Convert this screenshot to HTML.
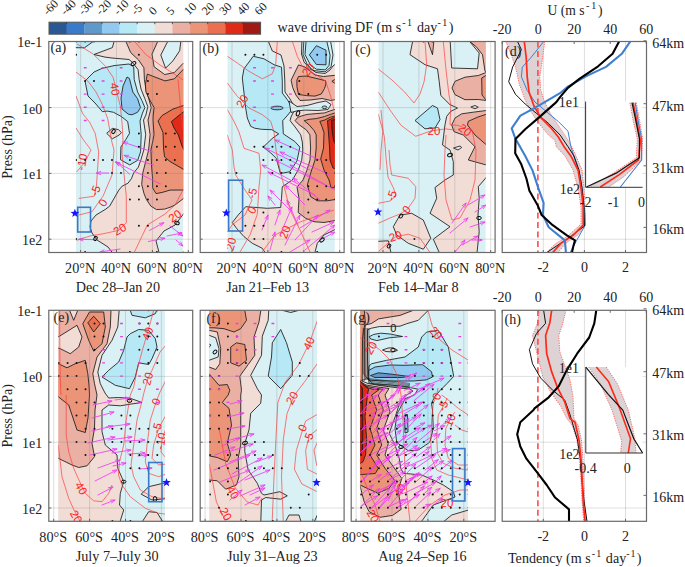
<!DOCTYPE html><html><head><meta charset="utf-8"><style>html,body{margin:0;padding:0;background:#fff;overflow:hidden}svg{display:block;font-family:"Liberation Serif",serif}</style></head><body><svg width="685" height="567" viewBox="0 0 685 567" fill="#222">
<rect width="685" height="567" fill="#fff"/>
<rect x="49.00" y="22.2" width="17.93" height="12.000000000000004" fill="#2a5892"/>
<rect x="66.63" y="22.2" width="17.93" height="12.000000000000004" fill="#3a7bc9"/>
<rect x="84.27" y="22.2" width="17.93" height="12.000000000000004" fill="#5f99cb"/>
<rect x="101.90" y="22.2" width="17.93" height="12.000000000000004" fill="#92c9f0"/>
<rect x="119.53" y="22.2" width="17.93" height="12.000000000000004" fill="#b6e8f6"/>
<rect x="137.17" y="22.2" width="17.93" height="12.000000000000004" fill="#d9f0f4"/>
<rect x="154.80" y="22.2" width="17.93" height="12.000000000000004" fill="#f2dcd6"/>
<rect x="172.43" y="22.2" width="17.93" height="12.000000000000004" fill="#ebb0a4"/>
<rect x="190.07" y="22.2" width="17.93" height="12.000000000000004" fill="#eb9478"/>
<rect x="207.70" y="22.2" width="17.93" height="12.000000000000004" fill="#eb7050"/>
<rect x="225.33" y="22.2" width="17.93" height="12.000000000000004" fill="#e02a18"/>
<rect x="242.97" y="22.2" width="17.93" height="12.000000000000004" fill="#a01a14"/>
<rect x="49.0" y="22.2" width="211.60" height="12.000000000000004" fill="none" stroke="#555" stroke-width="1"/>
<line x1="66.63" y1="22.2" x2="66.63" y2="24.2" stroke="#333" stroke-width="0.8"/>
<line x1="84.27" y1="22.2" x2="84.27" y2="24.2" stroke="#333" stroke-width="0.8"/>
<line x1="101.90" y1="22.2" x2="101.90" y2="24.2" stroke="#333" stroke-width="0.8"/>
<line x1="119.53" y1="22.2" x2="119.53" y2="24.2" stroke="#333" stroke-width="0.8"/>
<line x1="137.17" y1="22.2" x2="137.17" y2="24.2" stroke="#333" stroke-width="0.8"/>
<line x1="154.80" y1="22.2" x2="154.80" y2="24.2" stroke="#333" stroke-width="0.8"/>
<line x1="172.43" y1="22.2" x2="172.43" y2="24.2" stroke="#333" stroke-width="0.8"/>
<line x1="190.07" y1="22.2" x2="190.07" y2="24.2" stroke="#333" stroke-width="0.8"/>
<line x1="207.70" y1="22.2" x2="207.70" y2="24.2" stroke="#333" stroke-width="0.8"/>
<line x1="225.33" y1="22.2" x2="225.33" y2="24.2" stroke="#333" stroke-width="0.8"/>
<line x1="242.97" y1="22.2" x2="242.97" y2="24.2" stroke="#333" stroke-width="0.8"/>
<text x="47.70" y="15.8" font-size="12" transform="rotate(-45 47.70 15.8)">-60</text>
<text x="65.33" y="15.8" font-size="12" transform="rotate(-45 65.33 15.8)">-40</text>
<text x="82.97" y="15.8" font-size="12" transform="rotate(-45 82.97 15.8)">-30</text>
<text x="100.60" y="15.8" font-size="12" transform="rotate(-45 100.60 15.8)">-20</text>
<text x="118.23" y="15.8" font-size="12" transform="rotate(-45 118.23 15.8)">-10</text>
<text x="135.87" y="15.8" font-size="12" transform="rotate(-45 135.87 15.8)">-5</text>
<text x="153.50" y="15.8" font-size="12" transform="rotate(-45 153.50 15.8)">0</text>
<text x="171.13" y="15.8" font-size="12" transform="rotate(-45 171.13 15.8)">5</text>
<text x="188.77" y="15.8" font-size="12" transform="rotate(-45 188.77 15.8)">10</text>
<text x="206.40" y="15.8" font-size="12" transform="rotate(-45 206.40 15.8)">20</text>
<text x="224.03" y="15.8" font-size="12" transform="rotate(-45 224.03 15.8)">30</text>
<text x="241.67" y="15.8" font-size="12" transform="rotate(-45 241.67 15.8)">40</text>
<text x="259.30" y="15.8" font-size="12" transform="rotate(-45 259.30 15.8)">60</text>
<text x="277.5" y="32" font-size="14.1">wave driving DF (m s<tspan dx="1" dy="-6" font-size="10" letter-spacing="1.5">-1</tspan><tspan dy="6"> day</tspan><tspan dy="-6" font-size="10" letter-spacing="1.5">-1</tspan><tspan dy="6">)</tspan></text>
<clipPath id="clip_a"><rect x="75.8" y="41.5" width="107.50" height="211.00"/></clipPath>
<g clip-path="url(#clip_a)">
<rect x="75.8" y="41.5" width="107.50" height="211.00" fill="#d9f0f4"/>
<path d="M70.0 38.0 L98.0 38.0 L84.5 47.8 L70.0 47.6Z" fill="#b6e8f6" stroke="#1a1a1a" stroke-width="0.85" stroke-linejoin="round"/>
<path d="M85.0 81.0 L94.0 72.0 L102.0 68.4 L114.0 65.6 L129.0 64.0 L133.7 66.8 L134.2 79.4 L137.6 92.0 L142.0 100.8 L144.9 107.6 L142.5 113.0 L140.0 121.0 L141.2 134.5 L140.6 151.8 L137.7 160.3 L129.7 164.9 L120.5 159.7 L120.9 146.9 L125.8 139.5 L129.5 133.3 L127.7 121.6 L121.5 116.6 L113.5 112.3 L107.3 111.1 L102.4 111.7 L95.0 103.0 L88.0 96.0Z" fill="#b6e8f6" stroke="#1a1a1a" stroke-width="0.85" stroke-linejoin="round"/>
<path d="M127.0 77.0 L129.4 78.4 L132.8 92.0 L137.6 98.8 L140.5 107.6 L137.5 112.3 L132.0 114.8 L128.3 114.2 L122.0 109.0 L121.0 98.0 L123.0 86.0Z" fill="#92c9f0" stroke="#1a1a1a" stroke-width="0.85" stroke-linejoin="round"/>
<path d="M106.7 133.3 L112.3 128.4 L118.4 129.6 L121.5 132.7 L119.0 135.1 L112.3 138.8Z" fill="#f2dcd6" stroke="#1a1a1a" stroke-width="0.85" stroke-linejoin="round"/>
<path d="M115.0 38.0 L112.4 47.6 L94.0 54.5 L105.0 57.1 L112.0 58.0 L129.0 59.5 L132.0 62.0 L134.5 65.0 L138.1 69.7 L139.1 79.4 L141.0 89.0 L144.9 98.8 L147.8 106.6 L145.9 115.0 L143.5 120.0 L145.7 134.6 L143.8 150.0 L141.1 159.2 L138.3 167.2 L133.7 172.9 L131.4 178.7 L127.9 183.3 L122.2 186.1 L118.8 190.1 L114.2 198.2 L109.6 206.2 L105.0 209.6 L96.0 215.0 L91.0 221.0 L90.0 227.0 L92.0 233.0 L97.0 240.0 L108.0 247.0 L115.0 256.0 L160.0 256.0 L156.0 241.0 L164.0 231.0 L175.0 225.0 L188.0 208.0 L188.0 38.0Z" fill="#f2dcd6" stroke="#1a1a1a" stroke-width="0.85" stroke-linejoin="round"/>
<path d="M169.5 38.0 L181.2 38.0 L179.7 50.7 L172.9 60.9 L165.6 68.2 L160.8 55.0Z" fill="#d9f0f4" stroke="#1a1a1a" stroke-width="0.85" stroke-linejoin="round"/>
<path d="M124.4 38.0 L130.7 52.6 L138.6 60.0 L143.9 67.8 L144.4 79.4 L145.9 89.0 L148.8 98.8 L151.2 107.6 L149.3 115.0 L148.0 120.0 L150.1 134.6 L148.6 150.0 L145.7 161.5 L142.8 172.9 L141.7 184.4 L144.0 193.6 L146.3 199.3 L150.9 206.2 L156.6 209.6 L164.6 209.1 L170.0 207.3 L175.0 205.0 L188.0 195.0 L188.0 64.0 L183.1 63.3 L174.4 72.5 L164.7 74.5 L154.1 66.8 L152.0 54.1 L159.3 38.0Z" fill="#ebb0a4" stroke="#1a1a1a" stroke-width="0.85" stroke-linejoin="round"/>
<path d="M147.3 74.1 L165.0 80.9 L174.4 78.8 L183.6 69.1 L188.0 66.0 L188.0 190.0 L170.0 190.1 L162.3 192.4 L156.0 193.6 L152.6 187.8 L152.6 178.7 L151.5 165.0 L150.9 150.0 L153.0 140.0 L154.0 134.6 L153.0 120.0 L153.2 115.0 L154.1 107.6 L150.2 100.8 L145.9 92.0 L145.4 84.3Z" fill="#eb9478" stroke="#1a1a1a" stroke-width="0.85" stroke-linejoin="round"/>
<path d="M188.0 104.0 L173.0 109.0 L162.0 115.6 L158.0 121.0 L163.0 132.6 L163.6 149.0 L164.6 157.0 L170.0 161.5 L188.0 172.0Z" fill="#eb7050" stroke="#1a1a1a" stroke-width="0.85" stroke-linejoin="round"/>
<path d="M188.0 108.0 L177.0 117.0 L171.4 121.6 L174.0 128.0 L178.2 134.6 L182.0 146.0 L188.0 158.0Z" fill="#e02a18" stroke="#1a1a1a" stroke-width="0.85" stroke-linejoin="round"/>
<polyline points="77.0,44.0 93.4,54.2 106.0,66.8 113.2,77.6 116.8,92.0 120.4,106.3 122.2,124.3 123.0,140.0 121.9,152.0 124.0,174.0 126.3,196.2 126.3,222.7 118.6,230.4 103.0,233.8 89.9,236.0 76.6,240.4" fill="none" stroke="#ff3a3a" stroke-width="0.75" stroke-opacity="0.9"/>
<polyline points="76.0,72.0 88.0,81.2 96.0,92.0 102.4,104.5 107.8,119.0 111.4,140.0 114.0,150.0 112.0,175.0 103.0,196.2 92.0,211.7 78.8,215.0" fill="none" stroke="#ff3a3a" stroke-width="0.75" stroke-opacity="0.9"/>
<polyline points="76.0,96.0 82.6,113.5 89.8,122.5 95.2,133.3 98.7,152.0 96.5,185.2 94.3,196.2 78.8,198.4" fill="none" stroke="#ff3a3a" stroke-width="0.75" stroke-opacity="0.9"/>
<polyline points="76.0,128.0 83.5,140.0 91.0,150.0 85.0,162.0 76.6,172.0" fill="none" stroke="#ff3a3a" stroke-width="0.75" stroke-opacity="0.9"/>
<polyline points="134.7,41.6 145.5,54.2 160.0,65.0 174.3,74.0 183.0,80.0" fill="none" stroke="#ff3a3a" stroke-width="0.75" stroke-opacity="0.9"/>
<polyline points="178.0,79.4 179.7,97.4 181.5,117.0 183.0,130.0" fill="none" stroke="#ff3a3a" stroke-width="0.75" stroke-opacity="0.9"/>
<polyline points="134.0,253.0 147.3,225.0 165.0,214.0 175.0,205.0 183.0,190.0" fill="none" stroke="#ff3a3a" stroke-width="0.75" stroke-opacity="0.9"/>
<text x="115.0" y="89.0" font-family="Liberation Sans, sans-serif" font-size="11.5" fill="#ff2020" text-anchor="middle" dominant-baseline="central" transform="rotate(80 115.0 89.0)">40</text>
<text x="82.0" y="162.0" font-family="Liberation Sans, sans-serif" font-size="11.5" fill="#ff2020" text-anchor="middle" dominant-baseline="central" transform="rotate(-80 82.0 162.0)">-10</text>
<text x="95.4" y="190.7" font-family="Liberation Sans, sans-serif" font-size="11.5" fill="#ff2020" text-anchor="middle" dominant-baseline="central" transform="rotate(-70 95.4 190.7)">-5</text>
<text x="103.0" y="202.8" font-family="Liberation Sans, sans-serif" font-size="11.5" fill="#ff2020" text-anchor="middle" dominant-baseline="central" transform="rotate(-60 103.0 202.8)">0</text>
<text x="119.7" y="229.3" font-family="Liberation Sans, sans-serif" font-size="11.5" fill="#ff2020" text-anchor="middle" dominant-baseline="central" transform="rotate(-30 119.7 229.3)">20</text>
<text x="175.0" y="216.0" font-family="Liberation Sans, sans-serif" font-size="11.5" fill="#ff2020" text-anchor="middle" dominant-baseline="central" transform="rotate(-35 175.0 216.0)">20</text>
<path d="M152.8 152.0L123.0 142.1M126.5 144.9L123.0 142.1L127.5 142.0M153.9 165.3L124.1 155.4M127.6 158.2L124.1 155.4L128.6 155.3M160.5 184.0L115.3 162.0M118.4 165.2L115.3 162.0L119.8 162.5M129.6 174.2L116.4 162.0M118.5 166.0L116.4 162.0L120.5 163.7M108.6 173.0L96.5 173.0M100.7 174.5L96.5 173.0L100.7 171.5M95.4 239.7L78.8 239.3M83.0 240.9L78.8 239.3L83.1 237.9M149.5 230.4L163.8 222.7M159.4 223.4L163.8 222.7L160.8 226.1M148.4 241.5L165.0 238.2M160.6 237.5L165.0 238.2L161.1 240.5M167.0 236.0L182.0 233.0M177.6 232.3L182.0 233.0L178.2 235.3M170.0 226.0L183.0 236.0M180.6 232.2L183.0 236.0L178.7 234.6M176.0 240.0L183.0 246.0M180.8 242.1L183.0 246.0L178.8 244.4M120.0 249.0L100.0 252.0M104.4 252.9L100.0 252.0L104.0 249.9" fill="none" stroke="#f03cf0" stroke-width="0.85" stroke-linecap="round"/>
<ellipse cx="133.5" cy="63.5" rx="2.6" ry="1.6" transform="rotate(-35 133.5 63.5)" fill="none" stroke="#111" stroke-width="1"/>
<ellipse cx="113.5" cy="131.5" rx="2.2" ry="1.5" transform="rotate(-60 113.5 131.5)" fill="none" stroke="#111" stroke-width="1"/>
<ellipse cx="95.5" cy="238.5" rx="2.2" ry="1.5" transform="rotate(-60 95.5 238.5)" fill="none" stroke="#111" stroke-width="1"/>
<ellipse cx="177" cy="223" rx="2.3" ry="1.6" transform="rotate(20 177 223)" fill="none" stroke="#111" stroke-width="1"/>
<path d="M75.1 41.5a1 1 0 1 0 2 0a1 1 0 1 0 -2 0M84.1 41.5a1 1 0 1 0 2 0a1 1 0 1 0 -2 0M93.0 41.5a1 1 0 1 0 2 0a1 1 0 1 0 -2 0M128.9 41.5a1 1 0 1 0 2 0a1 1 0 1 0 -2 0M137.9 41.5a1 1 0 1 0 2 0a1 1 0 1 0 -2 0M75.1 54.7a1 1 0 1 0 2 0a1 1 0 1 0 -2 0M137.9 54.7a1 1 0 1 0 2 0a1 1 0 1 0 -2 0M84.1 81.0a1 1 0 1 0 2 0a1 1 0 1 0 -2 0M93.0 81.0a1 1 0 1 0 2 0a1 1 0 1 0 -2 0M146.9 81.0a1 1 0 1 0 2 0a1 1 0 1 0 -2 0M146.9 94.1a1 1 0 1 0 2 0a1 1 0 1 0 -2 0M155.9 94.1a1 1 0 1 0 2 0a1 1 0 1 0 -2 0M137.9 133.6a1 1 0 1 0 2 0a1 1 0 1 0 -2 0M164.8 133.6a1 1 0 1 0 2 0a1 1 0 1 0 -2 0M173.8 133.6a1 1 0 1 0 2 0a1 1 0 1 0 -2 0M137.9 146.8a1 1 0 1 0 2 0a1 1 0 1 0 -2 0M155.9 146.8a1 1 0 1 0 2 0a1 1 0 1 0 -2 0M164.8 146.8a1 1 0 1 0 2 0a1 1 0 1 0 -2 0M173.8 146.8a1 1 0 1 0 2 0a1 1 0 1 0 -2 0M75.1 159.9a1 1 0 1 0 2 0a1 1 0 1 0 -2 0M84.1 159.9a1 1 0 1 0 2 0a1 1 0 1 0 -2 0M93.0 159.9a1 1 0 1 0 2 0a1 1 0 1 0 -2 0M102.0 159.9a1 1 0 1 0 2 0a1 1 0 1 0 -2 0M111.0 159.9a1 1 0 1 0 2 0a1 1 0 1 0 -2 0M128.9 159.9a1 1 0 1 0 2 0a1 1 0 1 0 -2 0M146.9 159.9a1 1 0 1 0 2 0a1 1 0 1 0 -2 0M155.9 159.9a1 1 0 1 0 2 0a1 1 0 1 0 -2 0M164.8 159.9a1 1 0 1 0 2 0a1 1 0 1 0 -2 0M173.8 159.9a1 1 0 1 0 2 0a1 1 0 1 0 -2 0M111.0 173.1a1 1 0 1 0 2 0a1 1 0 1 0 -2 0M120.0 173.1a1 1 0 1 0 2 0a1 1 0 1 0 -2 0M146.9 173.1a1 1 0 1 0 2 0a1 1 0 1 0 -2 0M155.9 173.1a1 1 0 1 0 2 0a1 1 0 1 0 -2 0M164.8 173.1a1 1 0 1 0 2 0a1 1 0 1 0 -2 0M137.9 186.3a1 1 0 1 0 2 0a1 1 0 1 0 -2 0M146.9 186.3a1 1 0 1 0 2 0a1 1 0 1 0 -2 0M155.9 186.3a1 1 0 1 0 2 0a1 1 0 1 0 -2 0M164.8 186.3a1 1 0 1 0 2 0a1 1 0 1 0 -2 0M128.9 199.4a1 1 0 1 0 2 0a1 1 0 1 0 -2 0M137.9 199.4a1 1 0 1 0 2 0a1 1 0 1 0 -2 0M146.9 199.4a1 1 0 1 0 2 0a1 1 0 1 0 -2 0M155.9 199.4a1 1 0 1 0 2 0a1 1 0 1 0 -2 0M137.9 225.7a1 1 0 1 0 2 0a1 1 0 1 0 -2 0M146.9 225.7a1 1 0 1 0 2 0a1 1 0 1 0 -2 0M75.1 238.9a1 1 0 1 0 2 0a1 1 0 1 0 -2 0M84.1 252.1a1 1 0 1 0 2 0a1 1 0 1 0 -2 0M128.9 252.1a1 1 0 1 0 2 0a1 1 0 1 0 -2 0M155.9 252.1a1 1 0 1 0 2 0a1 1 0 1 0 -2 0M182.8 252.1a1 1 0 1 0 2 0a1 1 0 1 0 -2 0" fill="#111"/>
<path d="M83.8 67.8h2.8M101.7 67.8h2.8M119.7 67.8h2.8M101.7 81.0h2.8M119.7 81.0h2.8M83.8 94.1h2.8M101.7 94.1h2.8M119.7 94.1h2.8M83.8 107.3h2.8M101.7 107.3h2.8M119.7 107.3h2.8M83.8 120.5h2.8M101.7 120.5h2.8" stroke="#e83ce8" stroke-width="1.4" fill="none"/>
</g>
<rect x="77.7" y="207.3" width="12.8" height="24.7" fill="none" stroke="#3a78c8" stroke-width="1.6"/>
<path d="M74.90 208.80L76.02 211.86L79.27 211.98L76.71 213.99L77.60 217.12L74.90 215.30L72.20 217.12L73.09 213.99L70.53 211.98L73.78 211.86Z" fill="#1515ff"/>
<clipPath id="clip_b"><rect x="227.3" y="41.5" width="107.50" height="211.00"/></clipPath>
<g clip-path="url(#clip_b)">
<rect x="227.3" y="41.5" width="107.50" height="211.00" fill="#d9f0f4"/>
<path d="M244.0 68.8 L253.2 56.3 L264.0 58.8 L274.0 64.7 L281.5 67.2 L282.3 81.3 L282.3 93.0 L287.3 99.7 L290.7 104.7 L290.7 111.3 L287.8 115.0 L282.7 120.7 L283.3 133.9 L294.7 141.4 L299.9 147.1 L297.0 160.9 L289.6 171.8 L280.4 173.5 L276.4 158.6 L270.6 152.8 L263.2 147.1 L272.9 137.9 L278.7 133.9 L271.8 129.7 L261.5 129.3 L254.6 128.2 L250.7 126.3 L247.3 118.0 L245.7 108.0 L244.0 93.0 L242.3 78.0Z" fill="#b6e8f6" stroke="#1a1a1a" stroke-width="0.85" stroke-linejoin="round"/>
<path d="M267.0 38.0 L272.3 51.0 L281.0 55.0 L284.0 66.0 L284.8 81.0 L285.0 92.0 L290.0 99.0 L293.5 105.0 L293.5 112.0 L291.0 117.0 L290.1 120.7 L295.1 127.0 L300.7 134.8 L302.3 142.0 L302.8 150.0 L301.6 160.9 L298.2 170.0 L292.4 180.0 L282.3 186.7 L281.5 198.3 L280.7 207.5 L267.3 208.3 L245.7 206.7 L238.2 215.0 L232.3 222.5 L236.5 228.3 L244.0 236.7 L252.3 243.3 L262.3 248.3 L267.3 256.0 L314.0 256.0 L317.3 243.3 L324.0 235.0 L338.0 228.0 L338.0 38.0Z" fill="#f2dcd6" stroke="#1a1a1a" stroke-width="0.85" stroke-linejoin="round"/>
<path d="M289.0 101.0 L297.0 106.5 L307.0 105.5 L318.0 102.5 L326.0 101.0 L331.0 104.5 L328.0 109.5 L318.0 110.5 L305.6 110.1 L297.2 110.8 L291.0 112.5Z" fill="#d9f0f4" stroke="#1a1a1a" stroke-width="0.85" stroke-linejoin="round"/>
<path d="M302.0 38.0 L301.5 54.0 L304.0 62.0 L310.0 68.5 L316.0 72.5 L325.0 73.5 L330.0 70.0 L333.0 66.0 L338.0 62.0 L338.0 38.0Z" fill="#d9f0f4" stroke="#1a1a1a" stroke-width="0.85" stroke-linejoin="round"/>
<path d="M306.3 38.0 L305.0 54.6 L310.7 65.4 L316.4 69.2 L325.3 69.9 L329.1 65.4 L330.1 55.2 L326.0 38.0Z" fill="#b6e8f6" stroke="#1a1a1a" stroke-width="0.85" stroke-linejoin="round"/>
<path d="M309.4 54.9 L316.4 45.7 L326.0 50.2 L326.0 64.8 L316.4 64.5Z" fill="#92c9f0" stroke="#1a1a1a" stroke-width="0.85" stroke-linejoin="round"/>
<path d="M298.5 64.9 L305.0 67.0 L310.7 71.5 L315.0 75.0 L323.4 76.5 L338.0 75.0 L338.0 99.0 L331.0 100.5 L322.0 98.5 L310.0 100.0 L300.0 100.5 L295.9 95.0 L292.7 87.6 L291.1 80.2Z" fill="#ebb0a4" stroke="#1a1a1a" stroke-width="0.85" stroke-linejoin="round"/>
<path d="M298.5 76.5 L306.0 76.0 L315.0 78.1 L325.5 80.7 L326.0 84.0 L324.4 88.7 L321.3 94.0 L315.0 96.1 L306.5 95.6 L298.5 94.5 L296.9 86.6 L296.9 80.2Z" fill="#eb9478" stroke="#1a1a1a" stroke-width="0.85" stroke-linejoin="round"/>
<path d="M338.0 77.5 L331.9 81.3 L338.0 85.5Z" fill="#eb9478" stroke="#1a1a1a" stroke-width="0.85" stroke-linejoin="round"/>
<path d="M338.0 108.5 L330.3 110.8 L324.7 112.9 L316.2 113.6 L307.0 114.4 L302.0 115.8 L297.9 117.2 L295.1 120.7 L299.3 124.9 L306.3 129.9 L309.9 134.8 L310.6 148.0 L310.0 160.0 L307.0 170.0 L303.0 180.0 L297.0 187.0 L299.0 198.3 L298.2 212.5 L305.7 218.3 L314.0 221.7 L324.0 222.5 L338.0 220.0Z" fill="#ebb0a4" stroke="#1a1a1a" stroke-width="0.85" stroke-linejoin="round"/>
<path d="M338.0 112.0 L330.3 114.4 L324.7 116.5 L316.2 118.6 L309.2 119.3 L304.2 120.7 L309.2 124.9 L314.1 130.6 L316.2 134.8 L316.2 148.0 L315.0 160.0 L311.0 172.0 L307.3 185.0 L310.7 196.7 L317.3 200.8 L327.3 200.8 L338.0 199.0Z" fill="#eb9478" stroke="#1a1a1a" stroke-width="0.85" stroke-linejoin="round"/>
<path d="M338.0 115.0 L330.3 117.2 L324.7 120.0 L319.8 121.4 L321.9 126.3 L324.0 132.7 L323.5 148.0 L320.7 159.0 L324.0 170.0 L329.0 180.0 L331.0 187.6 L338.0 188.0Z" fill="#eb7050" stroke="#1a1a1a" stroke-width="0.85" stroke-linejoin="round"/>
<path d="M338.0 117.0 L334.6 117.2 L327.5 120.7 L328.2 129.2 L329.6 148.0 L330.0 160.0 L333.0 168.0 L338.0 170.0Z" fill="#e02a18" stroke="#1a1a1a" stroke-width="0.85" stroke-linejoin="round"/>
<path d="M338.0 118.5 L331.5 120.5 L332.0 130.0 L333.5 140.0 L338.0 150.0Z" fill="#a01a14" stroke="#1a1a1a" stroke-width="0.85" stroke-linejoin="round"/>
<ellipse cx="277" cy="108" rx="6.2" ry="1.8" fill="#92c9f0" stroke="#1a1a1a" stroke-width="0.85"/>
<ellipse cx="324.5" cy="107.3" rx="2.5" ry="1.3" fill="#b6e8f6" stroke="#1a1a1a" stroke-width="0.85"/>
<path d="M304 38 L303 54.5 L307 64 L313 70.5 L325 71.8 L331 67 L333 55 L330 38" fill="none" stroke="#1a1a1a" stroke-width="0.85"/>
<polyline points="227.3,56.3 237.3,63.0 249.0,71.3 262.3,78.8 272.3,73.8 275.7,64.7 277.3,41.3" fill="none" stroke="#ff3a3a" stroke-width="0.75" stroke-opacity="0.9"/>
<polyline points="227.3,83.0 237.3,96.3 249.0,108.0 262.3,114.7 270.7,121.3 274.0,132.0 276.0,150.0 280.0,170.0 285.0,190.0 290.0,210.0 300.0,230.0 310.0,252.0" fill="none" stroke="#ff3a3a" stroke-width="0.75" stroke-opacity="0.9"/>
<polyline points="227.3,109.7 234.0,121.3 239.0,132.0 244.0,148.3 259.0,153.3 260.7,170.0 259.0,186.7 257.3,214.2 250.0,235.0 240.0,252.0" fill="none" stroke="#ff3a3a" stroke-width="0.75" stroke-opacity="0.9"/>
<polyline points="292.3,41.3 297.3,56.3 302.3,66.3 317.3,75.5 325.7,81.3 330.7,96.3 334.0,110.0" fill="none" stroke="#ff3a3a" stroke-width="0.75" stroke-opacity="0.9"/>
<polyline points="227.3,135.0 232.3,150.0 234.0,166.7 235.7,175.0 245.0,190.0 252.0,200.0 245.0,215.0 232.0,225.0 227.3,232.0" fill="none" stroke="#ff3a3a" stroke-width="0.75" stroke-opacity="0.9"/>
<polyline points="262.0,252.0 275.0,235.0 300.0,222.0 320.0,215.0 334.0,210.0" fill="none" stroke="#ff3a3a" stroke-width="0.75" stroke-opacity="0.9"/>
<text x="242.3" y="101.3" font-family="Liberation Sans, sans-serif" font-size="11.5" fill="#ff2020" text-anchor="middle" dominant-baseline="central" transform="rotate(-60 242.3 101.3)">20</text>
<text x="308.2" y="69.7" font-family="Liberation Sans, sans-serif" font-size="11.5" fill="#ff2020" text-anchor="middle" dominant-baseline="central" transform="rotate(-55 308.2 69.7)">20</text>
<text x="252.3" y="193.3" font-family="Liberation Sans, sans-serif" font-size="11.5" fill="#ff2020" text-anchor="middle" dominant-baseline="central" transform="rotate(-75 252.3 193.3)">-5</text>
<text x="252.0" y="210.0" font-family="Liberation Sans, sans-serif" font-size="11.5" fill="#ff2020" text-anchor="middle" dominant-baseline="central" transform="rotate(-60 252.0 210.0)">0</text>
<text x="231.0" y="244.0" font-family="Liberation Sans, sans-serif" font-size="11.5" fill="#ff2020" text-anchor="middle" dominant-baseline="central" transform="rotate(-75 231.0 244.0)">20</text>
<text x="285.0" y="232.0" font-family="Liberation Sans, sans-serif" font-size="11.5" fill="#ff2020" text-anchor="middle" dominant-baseline="central" transform="rotate(-70 285.0 232.0)">20</text>
<path d="M320.0 160.0L275.0 140.0M278.2 143.1L275.0 140.0L279.5 140.3M330.0 175.0L280.0 152.0M283.2 155.2L280.0 152.0L284.5 152.4M325.0 185.0L275.0 160.0M278.1 163.3L275.0 160.0L279.5 160.5M315.0 195.0L268.0 172.0M271.1 175.2L268.0 172.0L272.5 172.5M310.0 170.0L265.0 148.0M268.1 151.2L265.0 148.0L269.5 148.5M300.0 185.0L262.0 165.0M265.0 168.3L262.0 165.0L266.5 165.6M335.0 190.0L290.0 165.0M293.0 168.4L290.0 165.0L294.4 165.7M305.0 205.0L285.0 185.0M286.9 189.1L285.0 185.0L289.1 186.9M320.0 200.0L293.0 178.0M295.3 181.9L293.0 178.0L297.2 179.5M290.0 210.0L270.0 190.0M271.9 194.1L270.0 190.0L274.1 191.9M298.0 225.0L287.0 200.0M287.3 204.5L287.0 200.0L290.1 203.3M275.0 205.0L268.0 196.0M269.4 200.3L268.0 196.0L271.8 198.4M285.0 245.0L300.0 215.0M296.7 218.1L300.0 215.0L299.5 219.5M295.0 240.0L318.0 215.0M314.0 217.1L318.0 215.0L316.3 219.1M305.0 250.0L335.0 225.0M330.8 226.5L335.0 225.0L332.7 228.9M280.0 235.0L292.0 207.0M288.9 210.3L292.0 207.0L291.7 211.5M275.0 225.0L280.0 210.0M277.2 213.5L280.0 210.0L280.1 214.5M320.0 240.0L335.0 232.0M330.5 232.6L335.0 232.0L332.0 235.3M300.0 228.0L330.0 210.0M325.6 210.9L330.0 210.0L327.2 213.5M270.0 250.0L275.0 232.0M272.4 235.7L275.0 232.0L275.3 236.5M290.0 252.0L310.0 240.0M305.6 240.9L310.0 240.0L307.2 243.5M312.0 232.0L334.0 222.0M329.5 222.4L334.0 222.0L330.8 225.1M262.0 230.0L268.0 215.0M265.0 218.4L268.0 215.0L267.8 219.5" fill="none" stroke="#f03cf0" stroke-width="0.85" stroke-linecap="round"/>
<ellipse cx="298" cy="113.4" rx="1.6" ry="2.6" transform="rotate(20 298 113.4)" fill="none" stroke="#111" stroke-width="1"/>
<ellipse cx="322" cy="240" rx="2.5" ry="1.6" transform="rotate(-40 322 240)" fill="none" stroke="#111" stroke-width="1"/>
<path d="M244.4 54.7a1 1 0 1 0 2 0a1 1 0 1 0 -2 0M253.4 54.7a1 1 0 1 0 2 0a1 1 0 1 0 -2 0M262.4 54.7a1 1 0 1 0 2 0a1 1 0 1 0 -2 0M316.2 54.7a1 1 0 1 0 2 0a1 1 0 1 0 -2 0M325.2 54.7a1 1 0 1 0 2 0a1 1 0 1 0 -2 0M298.3 81.0a1 1 0 1 0 2 0a1 1 0 1 0 -2 0M298.3 94.1a1 1 0 1 0 2 0a1 1 0 1 0 -2 0M307.3 94.1a1 1 0 1 0 2 0a1 1 0 1 0 -2 0M253.4 146.8a1 1 0 1 0 2 0a1 1 0 1 0 -2 0M262.4 146.8a1 1 0 1 0 2 0a1 1 0 1 0 -2 0M271.4 146.8a1 1 0 1 0 2 0a1 1 0 1 0 -2 0M280.4 146.8a1 1 0 1 0 2 0a1 1 0 1 0 -2 0M289.3 146.8a1 1 0 1 0 2 0a1 1 0 1 0 -2 0M262.4 159.9a1 1 0 1 0 2 0a1 1 0 1 0 -2 0M271.4 159.9a1 1 0 1 0 2 0a1 1 0 1 0 -2 0M280.4 159.9a1 1 0 1 0 2 0a1 1 0 1 0 -2 0M289.3 159.9a1 1 0 1 0 2 0a1 1 0 1 0 -2 0M316.2 159.9a1 1 0 1 0 2 0a1 1 0 1 0 -2 0M325.2 159.9a1 1 0 1 0 2 0a1 1 0 1 0 -2 0M226.5 173.1a1 1 0 1 0 2 0a1 1 0 1 0 -2 0M235.5 173.1a1 1 0 1 0 2 0a1 1 0 1 0 -2 0M271.4 173.1a1 1 0 1 0 2 0a1 1 0 1 0 -2 0M280.4 173.1a1 1 0 1 0 2 0a1 1 0 1 0 -2 0M289.3 173.1a1 1 0 1 0 2 0a1 1 0 1 0 -2 0M325.2 173.1a1 1 0 1 0 2 0a1 1 0 1 0 -2 0M334.2 173.1a1 1 0 1 0 2 0a1 1 0 1 0 -2 0M307.3 186.3a1 1 0 1 0 2 0a1 1 0 1 0 -2 0M316.2 186.3a1 1 0 1 0 2 0a1 1 0 1 0 -2 0M325.2 186.3a1 1 0 1 0 2 0a1 1 0 1 0 -2 0M334.2 186.3a1 1 0 1 0 2 0a1 1 0 1 0 -2 0M307.3 199.4a1 1 0 1 0 2 0a1 1 0 1 0 -2 0M316.2 199.4a1 1 0 1 0 2 0a1 1 0 1 0 -2 0M325.2 199.4a1 1 0 1 0 2 0a1 1 0 1 0 -2 0M334.2 199.4a1 1 0 1 0 2 0a1 1 0 1 0 -2 0M262.4 212.6a1 1 0 1 0 2 0a1 1 0 1 0 -2 0M307.3 212.6a1 1 0 1 0 2 0a1 1 0 1 0 -2 0M244.4 225.7a1 1 0 1 0 2 0a1 1 0 1 0 -2 0M253.4 225.7a1 1 0 1 0 2 0a1 1 0 1 0 -2 0M262.4 225.7a1 1 0 1 0 2 0a1 1 0 1 0 -2 0M253.4 238.9a1 1 0 1 0 2 0a1 1 0 1 0 -2 0M262.4 238.9a1 1 0 1 0 2 0a1 1 0 1 0 -2 0M280.4 252.1a1 1 0 1 0 2 0a1 1 0 1 0 -2 0M316.2 252.1a1 1 0 1 0 2 0a1 1 0 1 0 -2 0" fill="#111"/>
<path d="M253.1 67.8h2.8M271.1 67.8h2.8M289.0 67.8h2.8M253.1 81.0h2.8M271.1 81.0h2.8M271.1 94.1h2.8M289.0 94.1h2.8M253.1 107.3h2.8M271.1 107.3h2.8M253.1 120.5h2.8" stroke="#e83ce8" stroke-width="1.4" fill="none"/>
</g>
<rect x="228.6" y="180.2" width="14" height="50.8" fill="none" stroke="#3a78c8" stroke-width="1.6"/>
<path d="M226.30 208.40L227.42 211.46L230.67 211.58L228.11 213.59L229.00 216.72L226.30 214.90L223.60 216.72L224.49 213.59L221.93 211.58L225.18 211.46Z" fill="#1515ff"/>
<clipPath id="clip_c"><rect x="378.3" y="41.5" width="107.50" height="211.00"/></clipPath>
<g clip-path="url(#clip_c)">
<rect x="378.3" y="41.5" width="107.50" height="211.00" fill="#d9f0f4"/>
<path d="M413.3 38.0 L410.0 54.7 L425.0 64.7 L437.5 68.8 L439.2 81.3 L440.8 95.5 L450.0 104.7 L457.5 108.0 L450.8 111.3 L446.7 116.3 L445.0 124.7 L442.5 145.0 L450.0 150.0 L453.3 161.7 L453.3 175.0 L445.0 180.0 L435.0 187.5 L436.7 198.3 L430.0 213.3 L450.0 226.7 L433.3 239.2 L440.8 256.0 L476.7 256.0 L479.2 231.7 L478.0 215.0 L479.2 198.3 L478.3 186.7 L490.0 173.0 L490.0 38.0Z" fill="#f2dcd6" stroke="#1a1a1a" stroke-width="0.85" stroke-linejoin="round"/>
<path d="M393.3 226.7 L400.0 215.0 L411.7 213.3 L423.3 220.0 L430.8 238.3 L423.3 249.2 L408.3 243.3 L396.7 235.0Z" fill="#f2dcd6" stroke="#1a1a1a" stroke-width="0.85" stroke-linejoin="round"/>
<path d="M370.0 241.7 L388.3 240.8 L391.7 256.0 L370.0 256.0Z" fill="#f2dcd6" stroke="#1a1a1a" stroke-width="0.85" stroke-linejoin="round"/>
<path d="M450.0 38.0 L451.7 68.0 L477.5 68.8 L479.2 53.0 L466.7 38.0Z" fill="#d9f0f4" stroke="#1a1a1a" stroke-width="0.85" stroke-linejoin="round"/>
<path d="M426.7 38.0 L434.2 38.0 L432.5 54.7Z" fill="#ebb0a4" stroke="#1a1a1a" stroke-width="0.85" stroke-linejoin="round"/>
<path d="M465.8 38.0 L490.0 38.0 L490.0 73.0 L485.0 71.3 L482.5 54.7 L476.7 47.2Z" fill="#ebb0a4" stroke="#1a1a1a" stroke-width="0.85" stroke-linejoin="round"/>
<path d="M455.0 81.3 L465.0 77.2 L478.3 75.5 L490.0 71.0 L490.0 101.0 L478.3 99.5 L465.0 99.7 L455.0 94.7 L452.0 88.0Z" fill="#ebb0a4" stroke="#1a1a1a" stroke-width="0.85" stroke-linejoin="round"/>
<path d="M490.0 73.0 L481.7 78.0 L482.0 95.0 L490.0 105.0Z" fill="#eb9478" stroke="#1a1a1a" stroke-width="0.85" stroke-linejoin="round"/>
<path d="M470.8 107.0 L475.0 105.5 L478.3 107.2 L475.0 108.8Z" fill="#d9f0f4" stroke="#1a1a1a" stroke-width="0.85" stroke-linejoin="round"/>
<path d="M490.0 110.0 L473.3 112.2 L461.7 113.8 L455.0 118.0 L451.7 125.0 L454.0 131.7 L463.3 135.0 L475.0 146.7 L468.3 160.0 L490.0 166.0Z" fill="#ebb0a4" stroke="#1a1a1a" stroke-width="0.85" stroke-linejoin="round"/>
<path d="M490.0 113.0 L478.0 117.0 L468.3 121.3 L467.5 125.0 L475.0 135.0 L490.0 148.0Z" fill="#eb9478" stroke="#1a1a1a" stroke-width="0.85" stroke-linejoin="round"/>
<path d="M453.5 148.0 L460.0 146.0 L461.7 147.5 L458.0 150.0Z" fill="#d9f0f4" stroke="#1a1a1a" stroke-width="0.85" stroke-linejoin="round"/>
<path d="M415.0 120.5 L432.5 105.5 L437.5 108.0 L440.0 119.7 L435.0 128.0 L425.0 128.8Z" fill="#b6e8f6" stroke="#1a1a1a" stroke-width="0.85" stroke-linejoin="round"/>
<polyline points="378.3,69.0 392.0,80.0 404.6,92.0 414.0,103.0 420.0,94.0 424.0,82.0 426.7,64.7 425.0,41.5" fill="none" stroke="#ff3a3a" stroke-width="0.75" stroke-opacity="0.9"/>
<polyline points="378.3,92.0 390.0,110.0 400.9,125.2 415.7,136.3 430.6,131.0 445.4,128.9 455.0,130.0" fill="none" stroke="#ff3a3a" stroke-width="0.75" stroke-opacity="0.9"/>
<polyline points="378.3,114.0 384.3,136.3 386.1,158.5 388.0,177.0 393.5,188.1 396.0,196.0 390.0,201.0 378.3,203.3" fill="none" stroke="#ff3a3a" stroke-width="0.75" stroke-opacity="0.9"/>
<polyline points="381.0,110.0 383.0,130.0 381.0,150.0 380.0,170.0" fill="none" stroke="#ff3a3a" stroke-width="0.75" stroke-opacity="0.9"/>
<polyline points="378.3,223.3 390.0,218.0 400.0,214.0 407.5,209.2 415.0,198.3 415.8,186.7 408.3,178.3 391.7,175.0 390.0,165.0 389.0,150.0" fill="none" stroke="#ff3a3a" stroke-width="0.75" stroke-opacity="0.9"/>
<polyline points="443.3,41.5 446.0,70.0 449.0,95.0 450.8,104.7 450.0,124.7 458.3,125.5 465.0,128.0" fill="none" stroke="#ff3a3a" stroke-width="0.75" stroke-opacity="0.9"/>
<polyline points="446.0,135.0 445.0,150.0 444.0,175.0 446.0,200.0 452.0,220.0 460.0,218.0 470.0,200.0 475.0,180.0 476.0,150.0 472.0,130.0" fill="none" stroke="#ff3a3a" stroke-width="0.75" stroke-opacity="0.9"/>
<polyline points="378.3,251.7 388.0,243.0 395.8,236.7 408.3,234.2 420.0,238.3 430.0,252.5" fill="none" stroke="#ff3a3a" stroke-width="0.75" stroke-opacity="0.9"/>
<text x="434.0" y="130.7" font-family="Liberation Sans, sans-serif" font-size="11.5" fill="#ff2020" text-anchor="middle" dominant-baseline="central" transform="rotate(0 434.0 130.7)">20</text>
<text x="465.0" y="130.0" font-family="Liberation Sans, sans-serif" font-size="11.5" fill="#ff2020" text-anchor="middle" dominant-baseline="central" transform="rotate(40 465.0 130.0)">20</text>
<text x="391.7" y="195.6" font-family="Liberation Sans, sans-serif" font-size="11.5" fill="#ff2020" text-anchor="middle" dominant-baseline="central" transform="rotate(-70 391.7 195.6)">-5</text>
<text x="406.5" y="209.6" font-family="Liberation Sans, sans-serif" font-size="11.5" fill="#ff2020" text-anchor="middle" dominant-baseline="central" transform="rotate(-50 406.5 209.6)">0</text>
<text x="395.4" y="236.3" font-family="Liberation Sans, sans-serif" font-size="11.5" fill="#ff2020" text-anchor="middle" dominant-baseline="central" transform="rotate(-20 395.4 236.3)">20</text>
<path d="M450.0 233.0L468.0 218.0M463.8 219.5L468.0 218.0L465.7 221.9M452.0 223.0L466.0 203.0M462.3 205.6L466.0 203.0L464.8 207.3M468.0 205.0L485.0 195.0M480.6 195.8L485.0 195.0L482.1 198.5M470.0 227.0L485.0 222.0M480.5 221.9L485.0 222.0L481.5 224.8M472.0 240.0L482.0 240.0M477.8 238.5L482.0 240.0L477.8 241.5M455.0 252.0L465.0 240.0M461.1 242.3L465.0 240.0L463.5 244.2M475.0 212.0L486.0 205.0M481.6 206.0L486.0 205.0L483.3 208.6M462.0 245.0L478.0 236.0M473.6 236.7L478.0 236.0L475.1 239.4" fill="none" stroke="#f03cf0" stroke-width="0.85" stroke-linecap="round"/>
<ellipse cx="450" cy="155" rx="2.5" ry="1.6" transform="rotate(-20 450 155)" fill="none" stroke="#111" stroke-width="1"/>
<ellipse cx="401" cy="216" rx="2.2" ry="1.5" transform="rotate(-50 401 216)" fill="none" stroke="#111" stroke-width="1"/>
<ellipse cx="389" cy="246" rx="2.2" ry="1.5" transform="rotate(-50 389 246)" fill="none" stroke="#111" stroke-width="1"/>
<ellipse cx="479" cy="218" rx="2.3" ry="1.6" transform="rotate(0 479 218)" fill="none" stroke="#111" stroke-width="1"/>
<path d="M422.4 41.5a1 1 0 1 0 2 0a1 1 0 1 0 -2 0M431.4 41.5a1 1 0 1 0 2 0a1 1 0 1 0 -2 0M413.4 238.9a1 1 0 1 0 2 0a1 1 0 1 0 -2 0" fill="#111"/>
</g>
<path d="M378.00 207.40L379.12 210.46L382.37 210.58L379.81 212.59L380.70 215.72L378.00 213.90L375.30 215.72L376.19 212.59L373.63 210.58L376.88 210.46Z" fill="#1515ff"/>
<clipPath id="clip_e"><rect x="58.3" y="310.3" width="106.70" height="211.30"/></clipPath>
<g clip-path="url(#clip_e)">
<rect x="58.3" y="310.3" width="106.70" height="211.30" fill="#d9f0f4"/>
<path d="M54.0 306.0 L119.5 306.0 L117.8 327.0 L112.0 340.3 L102.0 355.3 L97.8 372.0 L100.3 383.7 L105.0 393.0 L108.7 398.0 L118.7 397.5 L130.3 398.3 L142.0 402.5 L130.3 404.2 L120.3 405.8 L108.7 405.0 L102.0 410.0 L102.0 431.7 L105.3 445.0 L117.0 455.0 L117.8 468.3 L123.7 481.7 L120.3 493.3 L119.5 505.0 L123.7 510.0 L118.7 526.0 L54.0 526.0Z" fill="#f2dcd6" stroke="#1a1a1a" stroke-width="0.85" stroke-linejoin="round"/>
<path d="M54.0 306.0 L111.2 306.0 L110.3 327.0 L107.0 343.7 L97.0 357.0 L92.8 373.7 L94.5 383.7 L97.0 395.0 L95.0 410.0 L94.5 428.3 L92.0 443.3 L94.5 456.7 L87.0 465.8 L78.7 467.5 L72.0 465.0 L58.3 458.3 L54.0 458.0Z" fill="#ebb0a4" stroke="#1a1a1a" stroke-width="0.85" stroke-linejoin="round"/>
<path d="M67.8 306.0 L79.5 306.0 L73.7 320.3Z" fill="#f2dcd6" stroke="#1a1a1a" stroke-width="0.85" stroke-linejoin="round"/>
<path d="M54.0 338.0 L59.5 336.2 L77.0 325.3 L82.0 337.0 L78.7 347.0 L70.3 353.7 L60.3 348.7 L54.0 347.0Z" fill="#f2dcd6" stroke="#1a1a1a" stroke-width="0.85" stroke-linejoin="round"/>
<path d="M82.8 323.7 L89.5 312.0 L103.7 312.0 L105.3 327.0 L102.0 343.7 L93.7 351.2 L88.7 340.3Z" fill="#eb9478" stroke="#1a1a1a" stroke-width="0.85" stroke-linejoin="round"/>
<path d="M54.0 362.0 L58.3 363.7 L67.0 367.8 L75.3 363.7 L85.3 360.3 L87.8 373.7 L89.0 385.0 L89.5 395.0 L88.0 418.0 L85.3 432.5 L77.0 430.0 L68.7 405.0 L58.3 396.7 L54.0 396.0Z" fill="#eb9478" stroke="#1a1a1a" stroke-width="0.85" stroke-linejoin="round"/>
<path d="M87.8 322.8 L93.7 316.2 L100.3 323.7 L93.7 332.0Z" fill="#eb7050" stroke="#1a1a1a" stroke-width="0.85" stroke-linejoin="round"/>
<path d="M128.7 306.0 L132.0 315.3 L145.3 317.8 L155.3 313.7 L158.7 306.0Z" fill="#b6e8f6" stroke="#1a1a1a" stroke-width="0.85" stroke-linejoin="round"/>
<path d="M130.3 333.7 L138.7 329.5 L148.7 330.3 L155.3 338.7 L157.0 347.0 L152.0 358.7 L148.7 364.5 L138.7 362.8 L135.3 377.0 L129.5 388.7 L115.3 385.3 L102.0 377.0 L108.7 370.3 L118.7 362.0 L123.7 350.3 L127.0 337.0Z" fill="#b6e8f6" stroke="#1a1a1a" stroke-width="0.85" stroke-linejoin="round"/>
<path d="M139.5 526.0 L148.7 511.7 L157.0 512.5 L162.8 521.7 L170.0 526.0Z" fill="#f2dcd6" stroke="#1a1a1a" stroke-width="0.85" stroke-linejoin="round"/>
<path d="M141.2 494.2 L148.7 486.7 L170.0 481.7 L170.0 498.3 L152.0 500.0Z" fill="#f2dcd6" stroke="#1a1a1a" stroke-width="0.85" stroke-linejoin="round"/>
<polyline points="153.7,310.3 147.8,332.0 142.8,348.7 137.0,370.3 133.7,387.0 130.3,395.0 126.2,420.0 123.7,445.0 119.5,461.7 118.5,475.0 122.0,485.0 130.3,496.7 145.3,508.3 158.7,513.3 165.0,514.0" fill="none" stroke="#ff3a3a" stroke-width="0.75" stroke-opacity="0.9"/>
<polyline points="166.0,345.0 160.0,352.0 152.0,370.3 147.8,378.7 143.7,393.7 142.0,401.2 137.0,420.0 133.7,445.0 131.0,465.0 133.7,476.7 140.3,490.0 152.0,496.7 160.3,498.3 166.0,498.0" fill="none" stroke="#ff3a3a" stroke-width="0.75" stroke-opacity="0.9"/>
<polyline points="166.0,380.0 160.0,392.0 156.2,401.7 150.3,420.0 147.0,445.0 145.3,461.7 148.7,473.3 158.7,476.7 166.0,474.0" fill="none" stroke="#ff3a3a" stroke-width="0.75" stroke-opacity="0.9"/>
<polyline points="166.0,415.0 158.7,428.3 153.7,445.0 152.0,458.3 158.7,465.0 166.0,464.0" fill="none" stroke="#ff3a3a" stroke-width="0.75" stroke-opacity="0.9"/>
<polyline points="166.0,428.0 162.0,440.0 161.0,452.0 166.0,458.0" fill="none" stroke="#ff3a3a" stroke-width="0.75" stroke-opacity="0.9"/>
<polyline points="66.2,395.0 66.2,435.0 68.7,451.7 73.7,468.3 81.2,485.0 85.3,493.3 93.7,500.8 102.0,501.7 108.7,493.3 112.0,485.0" fill="none" stroke="#ff3a3a" stroke-width="0.75" stroke-opacity="0.9"/>
<polyline points="58.3,445.0 62.0,476.7 68.7,498.3 74.0,510.0 80.3,521.7" fill="none" stroke="#ff3a3a" stroke-width="0.75" stroke-opacity="0.9"/>
<polyline points="59.6,310.3 59.8,350.0 60.3,380.0 61.0,395.0" fill="none" stroke="#ff3a3a" stroke-width="0.75" stroke-opacity="0.9"/>
<text x="147.8" y="333.7" font-family="Liberation Sans, sans-serif" font-size="11.5" fill="#ff2020" text-anchor="middle" dominant-baseline="central" transform="rotate(-70 147.8 333.7)">40</text>
<text x="147.8" y="378.7" font-family="Liberation Sans, sans-serif" font-size="11.5" fill="#ff2020" text-anchor="middle" dominant-baseline="central" transform="rotate(-75 147.8 378.7)">20</text>
<text x="156.2" y="401.7" font-family="Liberation Sans, sans-serif" font-size="11.5" fill="#ff2020" text-anchor="middle" dominant-baseline="central" transform="rotate(-70 156.2 401.7)">0</text>
<text x="157.0" y="428.0" font-family="Liberation Sans, sans-serif" font-size="11.5" fill="#ff2020" text-anchor="middle" dominant-baseline="central" transform="rotate(-75 157.0 428.0)">-5</text>
<text x="161.0" y="441.0" font-family="Liberation Sans, sans-serif" font-size="11.5" fill="#ff2020" text-anchor="middle" dominant-baseline="central" transform="rotate(-80 161.0 441.0)">-10</text>
<text x="81.2" y="488.3" font-family="Liberation Sans, sans-serif" font-size="11.5" fill="#ff2020" text-anchor="middle" dominant-baseline="central" transform="rotate(60 81.2 488.3)">40</text>
<text x="76.2" y="516.7" font-family="Liberation Sans, sans-serif" font-size="11.5" fill="#ff2020" text-anchor="middle" dominant-baseline="central" transform="rotate(60 76.2 516.7)">20</text>
<path d="M93.0 405.0L112.0 401.0M107.5 400.4L112.0 401.0L108.2 403.4M92.0 418.0L114.0 412.0M109.5 411.6L114.0 412.0L110.3 414.6M92.0 431.0L113.0 426.0M108.5 425.5L113.0 426.0L109.2 428.5M88.0 443.0L115.0 437.0M110.5 436.4L115.0 437.0L111.2 439.4M90.0 455.0L117.0 449.0M112.5 448.4L117.0 449.0L113.2 451.4M98.0 468.0L120.0 460.0M115.5 460.0L120.0 460.0L116.5 462.9M95.0 481.0L117.0 470.0M112.5 470.5L117.0 470.0L113.9 473.3M98.0 495.0L113.0 487.0M108.5 487.6L113.0 487.0L110.0 490.3M106.0 427.0L130.0 424.0M125.6 423.0L130.0 424.0L126.0 426.0M108.0 440.0L132.0 437.0M127.6 436.0L132.0 437.0L128.0 439.0M112.0 453.0L131.0 450.0M126.6 449.1L131.0 450.0L127.1 452.2M113.0 466.0L126.0 463.0M121.5 462.5L126.0 463.0L122.2 465.4M125.0 441.0L145.0 440.0M140.7 438.7L145.0 440.0L140.9 441.7M128.0 454.0L145.0 453.0M140.7 451.7L145.0 453.0L140.9 454.8M115.0 400.0L130.0 398.0M125.6 397.0L130.0 398.0L126.0 400.1M102.0 505.0L115.0 500.0M110.5 500.1L115.0 500.0L111.6 502.9M138.0 456.0L148.0 455.0M143.6 453.9L148.0 455.0L143.9 456.9M140.0 469.0L152.0 468.0M147.7 466.8L152.0 468.0L147.9 469.9" fill="none" stroke="#f03cf0" stroke-width="0.85" stroke-linecap="round"/>
<ellipse cx="129.5" cy="400.8" rx="2.3" ry="1.6" transform="rotate(0 129.5 400.8)" fill="none" stroke="#111" stroke-width="1"/>
<ellipse cx="123.7" cy="481.7" rx="2.3" ry="1.5" transform="rotate(0 123.7 481.7)" fill="none" stroke="#111" stroke-width="1"/>
<ellipse cx="155" cy="499" rx="1.8" ry="2.5" transform="rotate(0 155 499)" fill="none" stroke="#111" stroke-width="1"/>
<path d="M147.3 310.3a1 1 0 1 0 2 0a1 1 0 1 0 -2 0M156.3 310.3a1 1 0 1 0 2 0a1 1 0 1 0 -2 0M93.5 323.5a1 1 0 1 0 2 0a1 1 0 1 0 -2 0M102.5 323.5a1 1 0 1 0 2 0a1 1 0 1 0 -2 0M138.4 323.5a1 1 0 1 0 2 0a1 1 0 1 0 -2 0M147.3 323.5a1 1 0 1 0 2 0a1 1 0 1 0 -2 0M156.3 323.5a1 1 0 1 0 2 0a1 1 0 1 0 -2 0M93.5 336.6a1 1 0 1 0 2 0a1 1 0 1 0 -2 0M102.5 336.6a1 1 0 1 0 2 0a1 1 0 1 0 -2 0M138.4 336.6a1 1 0 1 0 2 0a1 1 0 1 0 -2 0M147.3 336.6a1 1 0 1 0 2 0a1 1 0 1 0 -2 0M156.3 336.6a1 1 0 1 0 2 0a1 1 0 1 0 -2 0M93.5 349.8a1 1 0 1 0 2 0a1 1 0 1 0 -2 0M138.4 349.8a1 1 0 1 0 2 0a1 1 0 1 0 -2 0M147.3 349.8a1 1 0 1 0 2 0a1 1 0 1 0 -2 0M156.3 349.8a1 1 0 1 0 2 0a1 1 0 1 0 -2 0M57.6 362.9a1 1 0 1 0 2 0a1 1 0 1 0 -2 0M66.6 362.9a1 1 0 1 0 2 0a1 1 0 1 0 -2 0M75.5 362.9a1 1 0 1 0 2 0a1 1 0 1 0 -2 0M84.5 362.9a1 1 0 1 0 2 0a1 1 0 1 0 -2 0M147.3 362.9a1 1 0 1 0 2 0a1 1 0 1 0 -2 0M156.3 362.9a1 1 0 1 0 2 0a1 1 0 1 0 -2 0M57.6 376.1a1 1 0 1 0 2 0a1 1 0 1 0 -2 0M66.6 376.1a1 1 0 1 0 2 0a1 1 0 1 0 -2 0M75.5 376.1a1 1 0 1 0 2 0a1 1 0 1 0 -2 0M66.6 389.3a1 1 0 1 0 2 0a1 1 0 1 0 -2 0M75.5 389.3a1 1 0 1 0 2 0a1 1 0 1 0 -2 0M84.5 389.3a1 1 0 1 0 2 0a1 1 0 1 0 -2 0M75.5 402.4a1 1 0 1 0 2 0a1 1 0 1 0 -2 0M84.5 402.4a1 1 0 1 0 2 0a1 1 0 1 0 -2 0M93.5 402.4a1 1 0 1 0 2 0a1 1 0 1 0 -2 0M75.5 415.6a1 1 0 1 0 2 0a1 1 0 1 0 -2 0M84.5 415.6a1 1 0 1 0 2 0a1 1 0 1 0 -2 0M120.4 415.6a1 1 0 1 0 2 0a1 1 0 1 0 -2 0M129.4 415.6a1 1 0 1 0 2 0a1 1 0 1 0 -2 0M84.5 428.7a1 1 0 1 0 2 0a1 1 0 1 0 -2 0M93.5 428.7a1 1 0 1 0 2 0a1 1 0 1 0 -2 0M111.4 428.7a1 1 0 1 0 2 0a1 1 0 1 0 -2 0M120.4 428.7a1 1 0 1 0 2 0a1 1 0 1 0 -2 0M129.4 428.7a1 1 0 1 0 2 0a1 1 0 1 0 -2 0M138.4 428.7a1 1 0 1 0 2 0a1 1 0 1 0 -2 0M147.3 428.7a1 1 0 1 0 2 0a1 1 0 1 0 -2 0M75.5 441.9a1 1 0 1 0 2 0a1 1 0 1 0 -2 0M84.5 441.9a1 1 0 1 0 2 0a1 1 0 1 0 -2 0M111.4 441.9a1 1 0 1 0 2 0a1 1 0 1 0 -2 0M120.4 441.9a1 1 0 1 0 2 0a1 1 0 1 0 -2 0M129.4 441.9a1 1 0 1 0 2 0a1 1 0 1 0 -2 0M138.4 441.9a1 1 0 1 0 2 0a1 1 0 1 0 -2 0M147.3 441.9a1 1 0 1 0 2 0a1 1 0 1 0 -2 0M156.3 441.9a1 1 0 1 0 2 0a1 1 0 1 0 -2 0M84.5 455.1a1 1 0 1 0 2 0a1 1 0 1 0 -2 0M93.5 455.1a1 1 0 1 0 2 0a1 1 0 1 0 -2 0M129.4 455.1a1 1 0 1 0 2 0a1 1 0 1 0 -2 0M138.4 455.1a1 1 0 1 0 2 0a1 1 0 1 0 -2 0M147.3 455.1a1 1 0 1 0 2 0a1 1 0 1 0 -2 0M156.3 455.1a1 1 0 1 0 2 0a1 1 0 1 0 -2 0M129.4 468.2a1 1 0 1 0 2 0a1 1 0 1 0 -2 0M138.4 468.2a1 1 0 1 0 2 0a1 1 0 1 0 -2 0M147.3 468.2a1 1 0 1 0 2 0a1 1 0 1 0 -2 0M111.4 520.9a1 1 0 1 0 2 0a1 1 0 1 0 -2 0M129.4 520.9a1 1 0 1 0 2 0a1 1 0 1 0 -2 0" fill="#111"/>
<path d="M120.1 323.5h2.8M138.1 323.5h2.8M156.0 323.5h2.8M120.1 336.6h2.8M102.2 349.8h2.8M120.1 349.8h2.8M102.2 362.9h2.8M120.1 362.9h2.8M138.1 362.9h2.8M102.2 376.1h2.8M120.1 376.1h2.8M138.1 376.1h2.8M138.1 389.3h2.8M156.0 389.3h2.8M138.1 402.4h2.8M156.0 402.4h2.8" stroke="#e83ce8" stroke-width="1.4" fill="none"/>
</g>
<rect x="148.7" y="462.5" width="13.3" height="39.2" fill="none" stroke="#3a78c8" stroke-width="1.6"/>
<path d="M166.50 477.90L167.62 480.96L170.87 481.08L168.31 483.09L169.20 486.22L166.50 484.40L163.80 486.22L164.69 483.09L162.13 481.08L165.38 480.96Z" fill="#1515ff"/>
<clipPath id="clip_f"><rect x="209.3" y="310.3" width="107.70" height="211.30"/></clipPath>
<g clip-path="url(#clip_f)">
<rect x="209.3" y="310.3" width="107.70" height="211.30" fill="#d9f0f4"/>
<path d="M205.0 306.0 L269.0 306.0 L268.2 320.3 L262.3 336.2 L261.5 355.3 L250.7 375.3 L257.3 388.7 L261.5 395.0 L260.7 403.3 L250.7 413.3 L249.0 430.0 L244.8 443.3 L244.8 451.7 L248.2 470.0 L257.3 483.3 L261.5 493.3 L264.0 495.0 L279.8 491.7 L287.3 495.8 L280.7 499.2 L265.7 497.5 L261.5 500.0 L260.7 526.0 L205.0 526.0Z" fill="#f2dcd6" stroke="#1a1a1a" stroke-width="0.85" stroke-linejoin="round"/>
<path d="M205.0 306.0 L261.5 306.0 L259.0 322.0 L254.0 337.0 L254.8 355.3 L248.2 364.5 L239.8 376.2 L241.5 390.3 L240.7 395.0 L240.7 445.0 L238.2 458.3 L239.0 476.7 L236.5 485.0 L225.7 489.2 L217.3 480.8 L209.0 480.0 L205.0 480.0Z" fill="#ebb0a4" stroke="#1a1a1a" stroke-width="0.85" stroke-linejoin="round"/>
<path d="M205.0 330.0 L209.0 330.3 L217.3 332.0 L220.7 348.7 L219.8 363.7 L215.7 369.5 L209.0 367.0 L205.0 367.0Z" fill="#f2dcd6" stroke="#1a1a1a" stroke-width="0.85" stroke-linejoin="round"/>
<path d="M205.0 335.0 L209.0 335.3 L215.7 337.8 L219.0 348.7 L218.2 357.0 L209.0 360.3 L205.0 360.0Z" fill="#d9f0f4" stroke="#1a1a1a" stroke-width="0.85" stroke-linejoin="round"/>
<path d="M205.0 342.0 L211.0 345.0 L205.0 352.0Z" fill="#b6e8f6" stroke="#1a1a1a" stroke-width="0.85" stroke-linejoin="round"/>
<path d="M205.0 306.0 L244.0 306.0 L246.5 320.3 L240.7 328.7 L234.0 332.0 L224.0 328.7 L214.0 327.8 L205.0 327.8Z" fill="#eb9478" stroke="#1a1a1a" stroke-width="0.85" stroke-linejoin="round"/>
<path d="M230.7 347.0 L236.5 342.8 L244.8 344.5 L246.5 360.3 L239.0 366.2 L230.7 362.8Z" fill="#eb9478" stroke="#1a1a1a" stroke-width="0.85" stroke-linejoin="round"/>
<path d="M205.0 373.7 L209.0 373.7 L219.0 385.3 L227.3 384.5 L229.8 390.3 L228.2 395.0 L222.3 402.5 L229.0 408.3 L231.5 425.0 L227.3 443.3 L230.7 455.0 L227.3 461.7 L217.3 457.5 L209.0 455.8 L205.0 455.8Z" fill="#eb9478" stroke="#1a1a1a" stroke-width="0.85" stroke-linejoin="round"/>
<path d="M280.7 329.5 L286.5 342.8 L292.3 362.0 L292.3 375.3 L280.7 388.7 L268.2 376.2 L271.5 357.0 L272.3 342.8Z" fill="#b6e8f6" stroke="#1a1a1a" stroke-width="0.85" stroke-linejoin="round"/>
<path d="M282.3 306.0 L282.3 310.3 L290.7 312.5 L299.0 310.3 L299.0 306.0Z" fill="#b6e8f6" stroke="#1a1a1a" stroke-width="0.85" stroke-linejoin="round"/>
<path d="M283.2 526.0 L289.0 515.0 L299.0 515.0 L302.3 526.0Z" fill="#f2dcd6" stroke="#1a1a1a" stroke-width="0.85" stroke-linejoin="round"/>
<path d="M312.3 526.0 L317.3 515.0 L320.0 515.0 L320.0 526.0Z" fill="#b6e8f6" stroke="#1a1a1a" stroke-width="0.85" stroke-linejoin="round"/>
<polyline points="318.5,317.4 309.3,343.3 298.1,365.6 285.2,382.2 277.8,402.6 275.9,439.6 274.0,476.7 272.2,521.6" fill="none" stroke="#ff3a3a" stroke-width="0.75" stroke-opacity="0.9"/>
<polyline points="318.5,361.9 305.6,380.4 294.4,395.2 287.0,413.7 283.3,439.6 281.5,476.7 283.3,521.6" fill="none" stroke="#ff3a3a" stroke-width="0.75" stroke-opacity="0.9"/>
<polyline points="318.5,413.7 305.6,421.1 301.9,432.2 296.3,450.7 294.4,469.3 301.9,484.0 316.7,491.5" fill="none" stroke="#ff3a3a" stroke-width="0.75" stroke-opacity="0.9"/>
<polyline points="318.5,428.5 309.3,435.9 305.6,450.7 307.4,469.3 318.5,474.8" fill="none" stroke="#ff3a3a" stroke-width="0.75" stroke-opacity="0.9"/>
<polyline points="318.5,439.6 314.0,450.0 316.7,465.6" fill="none" stroke="#ff3a3a" stroke-width="0.75" stroke-opacity="0.9"/>
<polyline points="218.8,426.8 225.8,464.3 235.2,487.8 247.0,501.9 258.0,505.0 262.0,498.0" fill="none" stroke="#ff3a3a" stroke-width="0.75" stroke-opacity="0.9"/>
<polyline points="209.4,464.3 216.4,501.9 225.8,521.6" fill="none" stroke="#ff3a3a" stroke-width="0.75" stroke-opacity="0.9"/>
<text x="309.0" y="343.3" font-family="Liberation Sans, sans-serif" font-size="11.5" fill="#ff2020" text-anchor="middle" dominant-baseline="central" transform="rotate(-65 309.0 343.3)">40</text>
<text x="292.0" y="398.0" font-family="Liberation Sans, sans-serif" font-size="11.5" fill="#ff2020" text-anchor="middle" dominant-baseline="central" transform="rotate(-60 292.0 398.0)">20</text>
<text x="302.5" y="428.0" font-family="Liberation Sans, sans-serif" font-size="11.5" fill="#ff2020" text-anchor="middle" dominant-baseline="central" transform="rotate(-65 302.5 428.0)">0</text>
<text x="308.5" y="438.0" font-family="Liberation Sans, sans-serif" font-size="11.5" fill="#ff2020" text-anchor="middle" dominant-baseline="central" transform="rotate(-70 308.5 438.0)">-5</text>
<text x="232.9" y="492.5" font-family="Liberation Sans, sans-serif" font-size="11.5" fill="#ff2020" text-anchor="middle" dominant-baseline="central" transform="rotate(60 232.9 492.5)">40</text>
<text x="225.8" y="514.0" font-family="Liberation Sans, sans-serif" font-size="11.5" fill="#ff2020" text-anchor="middle" dominant-baseline="central" transform="rotate(60 225.8 514.0)">20</text>
<path d="M230.0 404.0L242.0 401.0M237.5 400.5L242.0 401.0L238.3 403.5M228.0 417.0L244.0 413.0M239.5 412.5L244.0 413.0L240.3 415.5M228.0 429.0L245.0 426.0M240.6 425.2L245.0 426.0L241.1 428.2M226.0 441.0L254.0 434.0M249.5 433.5L254.0 434.0L250.3 436.5M225.0 453.0L253.0 444.0M248.5 443.8L253.0 444.0L249.4 446.8M230.0 462.0L256.0 451.0M251.5 451.2L256.0 451.0L252.7 454.1M232.0 474.0L262.0 458.0M257.5 458.6L262.0 458.0L259.0 461.3M235.0 485.0L262.0 466.0M257.7 467.2L262.0 466.0L259.4 469.7M240.0 496.0L265.0 485.0M260.5 485.3L265.0 485.0L261.7 488.1M222.0 446.0L240.0 438.0M235.5 438.3L240.0 438.0L236.8 441.1M215.0 455.0L235.0 447.0M230.5 447.2L235.0 447.0L231.6 450.0M214.0 470.0L250.0 455.0M245.5 455.2L250.0 455.0L246.7 458.0M220.0 482.0L250.0 470.0M245.5 470.2L250.0 470.0L246.6 473.0M245.0 480.0L270.0 470.0M265.5 470.2L270.0 470.0L266.6 473.0M250.0 495.0L265.0 488.0M260.5 488.4L265.0 488.0L261.8 491.2M245.0 505.0L260.0 497.0M255.5 497.6L260.0 497.0L257.0 500.3M230.0 500.0L242.0 490.0M237.8 491.5L242.0 490.0L239.7 493.9M256.0 462.0L272.0 456.0M267.5 456.1L272.0 456.0L268.6 458.9" fill="none" stroke="#f03cf0" stroke-width="0.85" stroke-linecap="round"/>
<ellipse cx="245" cy="443" rx="2.5" ry="1.6" transform="rotate(-20 245 443)" fill="none" stroke="#111" stroke-width="1"/>
<ellipse cx="215" cy="352" rx="2.2" ry="1.5" transform="rotate(-40 215 352)" fill="none" stroke="#111" stroke-width="1"/>
<path d="M218.0 323.5a1 1 0 1 0 2 0a1 1 0 1 0 -2 0M226.9 323.5a1 1 0 1 0 2 0a1 1 0 1 0 -2 0M226.9 336.6a1 1 0 1 0 2 0a1 1 0 1 0 -2 0M235.9 336.6a1 1 0 1 0 2 0a1 1 0 1 0 -2 0M226.9 349.8a1 1 0 1 0 2 0a1 1 0 1 0 -2 0M235.9 349.8a1 1 0 1 0 2 0a1 1 0 1 0 -2 0M244.9 349.8a1 1 0 1 0 2 0a1 1 0 1 0 -2 0M226.9 362.9a1 1 0 1 0 2 0a1 1 0 1 0 -2 0M235.9 362.9a1 1 0 1 0 2 0a1 1 0 1 0 -2 0M244.9 362.9a1 1 0 1 0 2 0a1 1 0 1 0 -2 0M298.8 362.9a1 1 0 1 0 2 0a1 1 0 1 0 -2 0M209.0 376.1a1 1 0 1 0 2 0a1 1 0 1 0 -2 0M218.0 376.1a1 1 0 1 0 2 0a1 1 0 1 0 -2 0M298.8 376.1a1 1 0 1 0 2 0a1 1 0 1 0 -2 0M307.7 376.1a1 1 0 1 0 2 0a1 1 0 1 0 -2 0M209.0 389.3a1 1 0 1 0 2 0a1 1 0 1 0 -2 0M218.0 389.3a1 1 0 1 0 2 0a1 1 0 1 0 -2 0M209.0 402.4a1 1 0 1 0 2 0a1 1 0 1 0 -2 0M218.0 402.4a1 1 0 1 0 2 0a1 1 0 1 0 -2 0M209.0 415.6a1 1 0 1 0 2 0a1 1 0 1 0 -2 0M218.0 415.6a1 1 0 1 0 2 0a1 1 0 1 0 -2 0M226.9 415.6a1 1 0 1 0 2 0a1 1 0 1 0 -2 0M209.0 428.7a1 1 0 1 0 2 0a1 1 0 1 0 -2 0M218.0 428.7a1 1 0 1 0 2 0a1 1 0 1 0 -2 0M226.9 428.7a1 1 0 1 0 2 0a1 1 0 1 0 -2 0M209.0 441.9a1 1 0 1 0 2 0a1 1 0 1 0 -2 0M218.0 441.9a1 1 0 1 0 2 0a1 1 0 1 0 -2 0M226.9 441.9a1 1 0 1 0 2 0a1 1 0 1 0 -2 0M253.9 441.9a1 1 0 1 0 2 0a1 1 0 1 0 -2 0M262.9 441.9a1 1 0 1 0 2 0a1 1 0 1 0 -2 0M209.0 455.1a1 1 0 1 0 2 0a1 1 0 1 0 -2 0M226.9 455.1a1 1 0 1 0 2 0a1 1 0 1 0 -2 0M235.9 455.1a1 1 0 1 0 2 0a1 1 0 1 0 -2 0M253.9 455.1a1 1 0 1 0 2 0a1 1 0 1 0 -2 0M262.9 455.1a1 1 0 1 0 2 0a1 1 0 1 0 -2 0M271.8 455.1a1 1 0 1 0 2 0a1 1 0 1 0 -2 0M218.0 468.2a1 1 0 1 0 2 0a1 1 0 1 0 -2 0M226.9 468.2a1 1 0 1 0 2 0a1 1 0 1 0 -2 0M235.9 468.2a1 1 0 1 0 2 0a1 1 0 1 0 -2 0M253.9 468.2a1 1 0 1 0 2 0a1 1 0 1 0 -2 0M262.9 468.2a1 1 0 1 0 2 0a1 1 0 1 0 -2 0M271.8 468.2a1 1 0 1 0 2 0a1 1 0 1 0 -2 0M280.8 468.2a1 1 0 1 0 2 0a1 1 0 1 0 -2 0M209.0 481.4a1 1 0 1 0 2 0a1 1 0 1 0 -2 0M226.9 481.4a1 1 0 1 0 2 0a1 1 0 1 0 -2 0M209.0 494.5a1 1 0 1 0 2 0a1 1 0 1 0 -2 0M226.9 494.5a1 1 0 1 0 2 0a1 1 0 1 0 -2 0M307.7 494.5a1 1 0 1 0 2 0a1 1 0 1 0 -2 0M218.0 507.7a1 1 0 1 0 2 0a1 1 0 1 0 -2 0M289.8 507.7a1 1 0 1 0 2 0a1 1 0 1 0 -2 0M298.8 507.7a1 1 0 1 0 2 0a1 1 0 1 0 -2 0M244.9 520.9a1 1 0 1 0 2 0a1 1 0 1 0 -2 0M271.8 520.9a1 1 0 1 0 2 0a1 1 0 1 0 -2 0" fill="#111"/>
<path d="M235.6 323.5h2.8M253.6 323.5h2.8M271.5 323.5h2.8M235.6 336.6h2.8M253.6 336.6h2.8M271.5 336.6h2.8M235.6 349.8h2.8M253.6 349.8h2.8M235.6 362.9h2.8M208.7 376.1h2.8M217.7 376.1h2.8M235.6 376.1h2.8M208.7 389.3h2.8M217.7 389.3h2.8M226.6 402.4h2.8M208.7 415.6h2.8" stroke="#e83ce8" stroke-width="1.4" fill="none"/>
</g>
<path d="M316.50 477.90L317.62 480.96L320.87 481.08L318.31 483.09L319.20 486.22L316.50 484.40L313.80 486.22L314.69 483.09L312.13 481.08L315.38 480.96Z" fill="#1515ff"/>
<clipPath id="clip_g"><rect x="360.3" y="310.3" width="107.70" height="211.30"/></clipPath>
<g clip-path="url(#clip_g)">
<rect x="360.3" y="310.3" width="107.70" height="211.30" fill="#d9f0f4"/>
<path d="M356.0 306.0 L428.3 306.0 L428.3 310.3 L418.3 320.3 L406.7 323.7 L400.0 326.2 L379.3 326.6 L371.5 328.2 L367.6 329.7 L367.5 335.0 L367.5 360.0 L368.0 372.0 L368.0 379.0 L356.0 379.0Z" fill="#f2dcd6" stroke="#1a1a1a" stroke-width="0.85" stroke-linejoin="round"/>
<path d="M356.0 306.0 L413.3 306.0 L413.3 310.3 L400.0 315.4 L390.0 317.0 L378.5 318.9 L371.5 323.5 L365.3 325.0 L364.8 331.0 L364.8 345.0 L365.0 380.0 L356.0 380.0Z" fill="#ebb0a4" stroke="#1a1a1a" stroke-width="0.85" stroke-linejoin="round"/>
<path d="M356.0 306.0 L364.0 306.0 L365.3 322.7 L363.4 331.3 L362.5 339.0 L362.2 382.0 L356.0 382.0Z" fill="#eb9478" stroke="#1a1a1a" stroke-width="0.85" stroke-linejoin="round"/>
<path d="M369.2 336.7 L373.8 334.4 L380.8 333.2 L390.0 334.0 L402.5 336.5 L389.3 337.8 L376.9 340.6 L370.7 339.0Z" fill="#b6e8f6" stroke="#1a1a1a" stroke-width="0.85" stroke-linejoin="round"/>
<path d="M382.5 350.0 L388.0 348.0 L393.3 347.8 L397.5 350.3 L393.3 352.0 L386.0 351.5Z" fill="#f2dcd6" stroke="#1a1a1a" stroke-width="0.85" stroke-linejoin="round"/>
<path d="M421.7 337.0 L426.7 332.0 L438.3 330.3 L448.3 347.0 L450.7 360.0 L453.7 376.4 L447.2 383.4 L440.2 390.4 L435.0 396.2 L431.5 403.2 L432.5 410.0 L433.3 428.3 L430.0 441.7 L428.3 443.3 L418.3 450.0 L408.3 450.8 L396.7 442.5 L395.0 428.3 L397.0 413.7 L402.9 403.2 L405.2 398.6 L414.5 395.0 L418.0 389.2 L405.0 386.5 L390.0 385.0 L375.0 384.0 L369.0 383.0 L368.5 378.0 L368.5 372.0 L369.0 366.0 L371.7 363.7 L386.7 360.3 L405.0 357.0 L418.3 347.0Z" fill="#b6e8f6" stroke="#1a1a1a" stroke-width="0.85" stroke-linejoin="round"/>
<path d="M368.5 370.5 L375.0 367.0 L390.0 365.0 L404.0 365.3 L422.7 364.7 L431.5 371.7 L432.6 377.0 L426.2 379.9 L413.4 381.0 L401.7 381.0 L390.0 381.0 L375.0 380.5 L368.5 380.0Z" fill="#92c9f0" stroke="#1a1a1a" stroke-width="0.85" stroke-linejoin="round"/>
<path d="M370.5 375.5 L378.3 372.8 L390.0 374.0 L408.7 376.4 L401.7 377.5 L390.0 377.5 L375.0 377.5Z" fill="#5f99cb" stroke="#1a1a1a" stroke-width="0.85" stroke-linejoin="round"/>
<path d="M356.0 381.0 L362.0 381.0 L368.0 383.5 L380.0 385.5 L395.0 387.5 L410.0 389.0 L413.0 391.0 L405.0 396.0 L400.0 402.0 L395.8 415.0 L389.2 433.3 L395.0 445.0 L399.2 458.3 L400.8 468.3 L403.3 473.3 L421.7 475.0 L433.3 480.0 L443.3 485.0 L453.3 491.7 L455.0 497.0 L433.3 505.0 L418.3 526.0 L356.0 526.0Z" fill="#f2dcd6" stroke="#1a1a1a" stroke-width="0.85" stroke-linejoin="round"/>
<path d="M356.0 382.0 L362.0 382.5 L366.0 385.0 L378.0 387.0 L389.0 388.5 L385.0 395.0 L390.0 411.7 L383.3 430.0 L388.3 443.3 L385.0 455.0 L393.3 466.7 L401.8 478.4 L398.0 490.0 L401.2 509.3 L392.6 515.4 L380.2 517.3 L369.1 511.7 L364.2 501.9 L360.0 486.0 L356.0 486.0Z" fill="#ebb0a4" stroke="#1a1a1a" stroke-width="0.85" stroke-linejoin="round"/>
<path d="M356.0 383.0 L362.0 383.5 L367.0 386.5 L376.0 388.3 L383.0 389.3 L378.3 395.0 L383.3 410.0 L376.7 428.3 L381.7 445.0 L376.7 455.0 L385.0 468.3 L395.0 480.9 L388.9 488.3 L377.8 493.2 L360.0 485.0 L356.0 485.0Z" fill="#eb9478" stroke="#1a1a1a" stroke-width="0.85" stroke-linejoin="round"/>
<path d="M356.0 384.0 L362.0 384.5 L368.0 388.0 L374.0 389.5 L379.2 389.6 L371.7 395.0 L376.7 410.0 L370.0 428.3 L375.0 445.0 L370.0 455.0 L378.3 468.3 L375.3 473.5 L360.0 474.7 L356.0 474.7Z" fill="#eb7050" stroke="#1a1a1a" stroke-width="0.85" stroke-linejoin="round"/>
<path d="M356.0 381.5 L360.5 381.5 L364.0 385.5 L368.6 389.0 L367.5 395.0 L365.0 416.7 L366.7 440.0 L365.5 455.0 L363.0 461.7 L360.0 463.6 L356.0 463.6Z" fill="#e02a18" stroke="#1a1a1a" stroke-width="0.85" stroke-linejoin="round"/>
<path d="M356.0 385.0 L360.0 385.0 L362.4 388.0 L362.8 430.0 L362.5 450.0 L360.0 455.0 L356.0 455.0Z" fill="#a01a14" stroke="#1a1a1a" stroke-width="0.85" stroke-linejoin="round"/>
<path d="M404.5 415.0 L407.5 414.5 L408.0 432.0 L405.0 433.0Z" fill="#92c9f0" stroke="#1a1a1a" stroke-width="0.85" stroke-linejoin="round"/>
<path d="M438.3 526.0 L451.7 515.0 L465.8 510.8 L472.0 509.0 L472.0 526.0Z" fill="#f2dcd6" stroke="#1a1a1a" stroke-width="0.85" stroke-linejoin="round"/>
<path d="M363.2 328 L363.2 371.0 Q363.2 376.0 368.0 378.5 L385.0 380.5 L400 382.0 L410 383.5 M364.6 328 L364.6 372.6 Q364.6 377.4 369.2 379.9 L385.0 381.8 L400 383.2 L410 384.6 M366.1 328 L366.1 374.2 Q366.1 378.8 370.4 381.3 L385.0 383.1 L400 384.4 L410 385.7 M367.6 328 L367.6 375.8 Q367.6 380.2 371.6 382.7 L385.0 384.4 L400 385.6 L410 386.8 M369.0 328 L369.0 377.4 Q369.0 381.6 372.8 384.1 L385.0 385.7 L400 386.8 L410 387.9 " fill="none" stroke="#1a1a1a" stroke-width="0.55"/>
<text x="393.3" y="328" font-family="Liberation Sans, sans-serif" font-size="11" fill="#111" text-anchor="middle" dominant-baseline="central">0</text>
<polyline points="360.3,338.0 370.0,343.0 380.0,350.0 390.0,360.0 397.0,375.0 401.0,395.0 403.0,420.0 404.0,445.0 405.0,470.0 407.0,495.0 410.0,521.6" fill="none" stroke="#ff3a3a" stroke-width="0.75" stroke-opacity="0.9"/>
<polyline points="428.0,310.3 432.0,325.0 440.0,340.0 452.0,350.0 468.0,360.0" fill="none" stroke="#ff3a3a" stroke-width="0.75" stroke-opacity="0.9"/>
<polyline points="438.0,388.0 436.7,395.0 433.3,403.3 431.7,420.0 430.8,441.7 431.7,458.3 436.7,470.0 448.3,475.0 461.7,478.3 468.3,480.0" fill="none" stroke="#ff3a3a" stroke-width="0.75" stroke-opacity="0.9"/>
<polyline points="447.0,398.0 445.0,403.3 438.3,415.0 436.7,436.7 437.5,453.3 443.3,463.3 455.0,468.3 468.3,470.0" fill="none" stroke="#ff3a3a" stroke-width="0.75" stroke-opacity="0.9"/>
<polyline points="455.0,412.0 451.7,416.7 445.8,428.3 445.0,445.0 448.3,458.3 458.3,465.0 468.3,465.0" fill="none" stroke="#ff3a3a" stroke-width="0.75" stroke-opacity="0.9"/>
<polyline points="441.7,395.0 448.3,400.0 458.3,408.3 468.3,415.0" fill="none" stroke="#ff3a3a" stroke-width="0.75" stroke-opacity="0.9"/>
<polyline points="455.0,425.0 461.7,430.0 468.3,432.0" fill="none" stroke="#ff3a3a" stroke-width="0.75" stroke-opacity="0.9"/>
<polyline points="360.3,470.0 368.0,490.0 375.0,505.0 380.0,521.6" fill="none" stroke="#ff3a3a" stroke-width="0.75" stroke-opacity="0.9"/>
<polyline points="415.0,521.6 430.0,505.0 445.0,495.0 460.0,490.0 468.0,490.0" fill="none" stroke="#ff3a3a" stroke-width="0.75" stroke-opacity="0.9"/>
<text x="371.0" y="348.0" font-family="Liberation Sans, sans-serif" font-size="11.5" fill="#ff2020" text-anchor="middle" dominant-baseline="central" transform="rotate(-60 371.0 348.0)">20</text>
<text x="436.0" y="333.0" font-family="Liberation Sans, sans-serif" font-size="11.5" fill="#ff2020" text-anchor="middle" dominant-baseline="central" transform="rotate(50 436.0 333.0)">20</text>
<text x="443.0" y="406.0" font-family="Liberation Sans, sans-serif" font-size="11.5" fill="#ff2020" text-anchor="middle" dominant-baseline="central" transform="rotate(-65 443.0 406.0)">-5</text>
<text x="450.0" y="420.0" font-family="Liberation Sans, sans-serif" font-size="11.5" fill="#ff2020" text-anchor="middle" dominant-baseline="central" transform="rotate(-65 450.0 420.0)">10</text>
<text x="400.0" y="490.0" font-family="Liberation Sans, sans-serif" font-size="11.5" fill="#ff2020" text-anchor="middle" dominant-baseline="central" transform="rotate(-65 400.0 490.0)">40</text>
<text x="447.0" y="503.0" font-family="Liberation Sans, sans-serif" font-size="11.5" fill="#ff2020" text-anchor="middle" dominant-baseline="central" transform="rotate(0 447.0 503.0)">20</text>
<text x="436.7" y="396.5" font-family="Liberation Sans, sans-serif" font-size="11.5" fill="#ff2020" text-anchor="middle" dominant-baseline="central" transform="rotate(-65 436.7 396.5)">0</text>
<text x="373.0" y="516.0" font-family="Liberation Sans, sans-serif" font-size="11.5" fill="#ff2020" text-anchor="middle" dominant-baseline="central" transform="rotate(60 373.0 516.0)">20</text>
<path d="M396.9 389.6L410.6 374.5M406.6 376.6L410.6 374.5L408.9 378.7M396.9 389.6L416.5 373.0M412.3 374.5L416.5 373.0L414.3 376.9M404.2 390.5L420.1 383.2M415.6 383.6L420.1 383.2L416.9 386.4M416.7 389.9L444.0 378.2M439.5 378.5L444.0 378.2L440.7 381.3M359.8 401.4L370.2 393.6M365.9 394.9L370.2 393.6L367.8 397.3M359.8 401.4L377.3 387.3M373.0 388.7L377.3 387.3L374.9 391.1M370.5 402.4L385.5 387.2M381.4 389.1L385.5 387.2L383.6 391.3M380.9 404.4L394.9 394.7M390.6 395.9L394.9 394.7L392.3 398.4M386.8 401.6L400.0 389.8M395.8 391.5L400.0 389.8L397.9 393.8M386.8 401.6L401.4 385.4M397.5 387.5L401.4 385.4L399.7 389.5M398.7 403.8L412.0 390.2M407.9 392.2L412.0 390.2L410.1 394.3M398.7 403.8L424.8 388.0M420.4 388.9L424.8 388.0L422.0 391.5M405.5 400.7L429.7 383.6M425.4 384.8L429.7 383.6L427.1 387.3M413.9 400.8L434.0 384.2M429.7 385.7L434.0 384.2L431.7 388.1M359.5 414.6L376.3 395.2M372.4 397.4L376.3 395.2L374.7 399.4M359.5 414.6L385.0 401.7M380.5 402.2L385.0 401.7L381.9 405.0M369.8 414.3L389.4 404.3M385.0 404.9L389.4 404.3L386.4 407.6M377.4 415.3L398.7 405.0M394.2 405.5L398.7 405.0L395.5 408.3M377.4 415.3L403.8 398.1M399.4 399.1L403.8 398.1L401.1 401.7M389.5 414.4L401.9 402.2M397.8 404.0L401.9 402.2L400.0 406.2M389.5 414.4L405.9 394.4M402.0 396.7L405.9 394.4L404.4 398.6M395.8 414.6L422.8 402.1M418.3 402.5L422.8 402.1L419.6 405.3M404.2 413.9L419.0 405.0M414.6 405.8L419.0 405.0L416.2 408.5M415.3 415.1L428.1 404.9M423.8 406.3L428.1 404.9L425.7 408.7M361.3 430.2L374.9 414.6M371.0 416.8L374.9 414.6L373.3 418.8M361.3 430.2L387.8 415.2M383.3 415.9L387.8 415.2L384.8 418.6M368.7 429.7L380.4 418.1M376.3 420.0L380.4 418.1L378.5 422.1M380.5 429.2L406.3 415.7M401.8 416.3L406.3 415.7L403.2 419.0M380.5 429.2L394.3 421.8M389.8 422.4L394.3 421.8L391.3 425.1M388.7 427.8L399.4 415.5M395.5 417.7L399.4 415.5L397.8 419.7M395.6 429.6L409.1 418.8M404.8 420.3L409.1 418.8L406.7 422.7M395.6 429.6L416.4 416.7M412.0 417.6L416.4 416.7L413.6 420.2M405.0 430.4L421.1 413.9M417.0 415.8L421.1 413.9L419.2 418.0M413.9 428.5L424.8 422.8M420.4 423.4L424.8 422.8L421.8 426.1M423.3 429.0L432.2 425.1M427.8 425.4L432.2 425.1L429.0 428.2M434.4 430.7L444.8 425.6M440.4 426.1L444.8 425.6L441.7 428.8M440.3 426.9L450.7 417.7M446.5 419.4L450.7 417.7L448.6 421.7M361.8 443.8L388.0 432.9M383.5 433.1L388.0 432.9L384.7 435.9M361.8 443.8L378.5 427.6M374.4 429.5L378.5 427.6L376.5 431.7M372.0 440.2L385.1 428.2M380.9 430.0L385.1 428.2L383.0 432.2M379.9 442.7L400.6 423.6M396.5 425.4L400.6 423.6L398.6 427.6M388.7 443.5L401.0 430.0M397.0 432.1L401.0 430.0L399.3 434.1M398.4 442.2L420.2 427.6M415.8 428.7L420.2 427.6L417.5 431.3M406.3 440.2L425.2 428.1M420.8 429.1L425.2 428.1L422.5 431.6M416.4 442.8L439.3 423.6M435.1 425.2L439.3 423.6L437.0 427.5M424.1 441.7L437.0 433.3M432.7 434.3L437.0 433.3L434.3 436.9M433.8 440.0L440.0 433.7M435.9 435.7L440.0 433.7L438.1 437.8M442.6 441.9L451.0 435.9M446.6 437.1L451.0 435.9L448.4 439.6M360.0 453.1L382.2 435.0M377.9 436.5L382.2 435.0L379.8 438.9M360.0 453.1L373.0 440.0M368.9 441.9L373.0 440.0L371.1 444.1M370.6 454.8L395.9 442.1M391.4 442.6L395.9 442.1L392.8 445.4M377.7 454.8L398.3 442.4M393.9 443.3L398.3 442.4L395.4 445.9M387.5 455.4L406.2 434.8M402.3 436.9L406.2 434.8L404.5 439.0M387.5 455.4L407.9 444.0M403.5 444.7L407.9 444.0L405.0 447.4M397.7 456.9L416.9 437.4M412.8 439.4L416.9 437.4L415.0 441.5M397.7 456.9L417.4 445.5M412.9 446.3L417.4 445.5L414.5 448.9M405.5 455.6L419.3 447.7M414.9 448.5L419.3 447.7L416.4 451.1M416.2 457.0L430.5 446.6M426.2 447.9L430.5 446.6L428.0 450.4M422.0 456.6L429.1 451.6M424.8 452.7L429.1 451.6L426.5 455.2M433.1 454.3L447.0 448.4M442.5 448.6L447.0 448.4L443.7 451.4M441.6 453.2L450.2 449.6M445.7 449.8L450.2 449.6L446.9 452.6M359.6 466.4L371.0 454.9M367.0 456.8L371.0 454.9L369.1 458.9M370.6 469.4L389.8 456.2M385.5 457.4L389.8 456.2L387.2 459.9M378.9 466.9L390.6 456.7M386.4 458.3L390.6 456.7L388.4 460.6M378.9 466.9L399.9 449.8M395.6 451.3L399.9 449.8L397.6 453.7M387.3 469.0L402.4 461.3M397.9 461.9L402.4 461.3L399.3 464.6M396.5 469.4L416.3 453.2M412.1 454.7L416.3 453.2L414.0 457.1M406.8 466.7L433.0 454.8M428.5 455.2L433.0 454.8L429.8 458.0M416.5 467.7L435.6 454.5M431.3 455.6L435.6 454.5L433.0 458.2M425.0 470.0L438.3 459.7M434.0 461.1L438.3 459.7L435.9 463.5M431.6 469.1L443.5 460.8M439.2 462.0L443.5 460.8L440.9 464.5M440.6 469.8L452.3 460.1M448.0 461.6L452.3 460.1L450.0 464.0M361.1 482.5L380.4 460.1M376.5 462.3L380.4 460.1L378.8 464.3M361.1 482.5L379.2 459.2M375.4 461.6L379.2 459.2L377.8 463.4M369.7 481.6L381.2 474.5M376.8 475.4L381.2 474.5L378.4 478.0M380.2 479.6L390.4 472.3M386.0 473.6L390.4 472.3L387.8 476.1M389.1 479.9L405.2 471.8M400.7 472.3L405.2 471.8L402.1 475.1M389.1 479.9L409.8 462.2M405.6 463.8L409.8 462.2L407.6 466.1M398.7 481.4L415.8 463.9M411.7 465.9L415.8 463.9L413.9 468.0M406.0 480.5L420.5 473.9M416.1 474.3L420.5 473.9L417.3 477.1M414.9 482.8L432.3 466.9M428.1 468.6L432.3 466.9L430.2 470.9M423.3 482.8L432.1 476.0M427.9 477.3L432.1 476.0L429.7 479.8M434.2 483.3L441.1 475.9M437.1 477.9L441.1 475.9L439.3 480.0M361.1 494.6L373.4 484.9M369.2 486.3L373.4 484.9L371.1 488.7M370.0 494.1L397.2 482.7M392.7 483.0L397.2 482.7L393.9 485.8M379.7 492.8L396.2 480.0M391.9 481.4L396.2 480.0L393.8 483.8M389.6 493.6L414.0 477.5M409.6 478.5L414.0 477.5L411.3 481.1M389.6 493.6L409.2 482.8M404.8 483.5L409.2 482.8L406.3 486.2M396.8 493.8L416.8 473.9M412.7 475.8L416.8 473.9L414.9 478.0M396.8 493.8L419.1 472.6M415.0 474.4L419.1 472.6L417.1 476.7M404.0 493.3L427.4 482.1M423.0 482.5L427.4 482.1L424.3 485.3M414.1 494.0L435.6 482.4M431.1 483.0L435.6 482.4L432.6 485.7M424.7 493.0L431.7 487.3M427.5 488.8L431.7 487.3L429.4 491.2M431.6 494.7L440.1 488.4M435.7 489.7L440.1 488.4L437.6 492.2M361.1 506.3L377.5 495.9M373.1 496.9L377.5 495.9L374.8 499.5M361.1 506.3L379.7 488.4M375.6 490.2L379.7 488.4L377.7 492.4M370.4 509.1L392.3 492.7M388.0 494.1L392.3 492.7L389.8 496.5M370.4 509.1L390.0 488.0M386.0 490.1L390.0 488.0L388.2 492.1M378.2 509.4L390.2 496.4M386.2 498.5L390.2 496.4L388.5 500.5M378.2 509.4L395.5 484.8M391.8 487.3L395.5 484.8L394.3 489.1M388.8 506.7L403.5 499.7M399.0 500.1L403.5 499.7L400.4 502.9M388.8 506.7L403.1 489.8M399.2 492.0L403.1 489.8L401.5 494.0M396.5 508.4L406.8 498.5M402.7 500.4L406.8 498.5L404.8 502.6M396.5 508.4L419.3 494.7M414.9 495.6L419.3 494.7L416.5 498.2M404.3 507.7L424.2 486.0M420.2 488.1L424.2 486.0L422.5 490.2M415.6 506.5L430.9 492.0M426.8 493.8L430.9 492.0L428.9 496.1M422.0 507.9L430.3 504.2M425.8 504.5L430.3 504.2L427.0 507.3M431.4 506.4L442.4 498.3M438.1 499.6L442.4 498.3L439.9 502.1" fill="none" stroke="#f03cf0" stroke-width="0.85" stroke-linecap="round"/>
<ellipse cx="393" cy="350" rx="2.2" ry="1.6" transform="rotate(0 393 350)" fill="none" stroke="#111" stroke-width="1"/>
<ellipse cx="401" cy="447" rx="2.3" ry="1.6" transform="rotate(0 401 447)" fill="none" stroke="#111" stroke-width="1"/>
<path d="M377.9 336.6a1 1 0 1 0 2 0a1 1 0 1 0 -2 0M431.8 336.6a1 1 0 1 0 2 0a1 1 0 1 0 -2 0M422.8 349.8a1 1 0 1 0 2 0a1 1 0 1 0 -2 0M431.8 349.8a1 1 0 1 0 2 0a1 1 0 1 0 -2 0M440.8 349.8a1 1 0 1 0 2 0a1 1 0 1 0 -2 0M413.9 362.9a1 1 0 1 0 2 0a1 1 0 1 0 -2 0M422.8 362.9a1 1 0 1 0 2 0a1 1 0 1 0 -2 0M431.8 362.9a1 1 0 1 0 2 0a1 1 0 1 0 -2 0M440.8 362.9a1 1 0 1 0 2 0a1 1 0 1 0 -2 0M449.8 362.9a1 1 0 1 0 2 0a1 1 0 1 0 -2 0M467.7 362.9a1 1 0 1 0 2 0a1 1 0 1 0 -2 0M413.9 376.1a1 1 0 1 0 2 0a1 1 0 1 0 -2 0M431.8 376.1a1 1 0 1 0 2 0a1 1 0 1 0 -2 0M449.8 376.1a1 1 0 1 0 2 0a1 1 0 1 0 -2 0M422.8 389.3a1 1 0 1 0 2 0a1 1 0 1 0 -2 0M431.8 389.3a1 1 0 1 0 2 0a1 1 0 1 0 -2 0M440.8 389.3a1 1 0 1 0 2 0a1 1 0 1 0 -2 0M449.8 389.3a1 1 0 1 0 2 0a1 1 0 1 0 -2 0M458.7 389.3a1 1 0 1 0 2 0a1 1 0 1 0 -2 0M360.0 402.4a1 1 0 1 0 2 0a1 1 0 1 0 -2 0M369.0 402.4a1 1 0 1 0 2 0a1 1 0 1 0 -2 0M377.9 402.4a1 1 0 1 0 2 0a1 1 0 1 0 -2 0M386.9 402.4a1 1 0 1 0 2 0a1 1 0 1 0 -2 0M395.9 402.4a1 1 0 1 0 2 0a1 1 0 1 0 -2 0M404.9 402.4a1 1 0 1 0 2 0a1 1 0 1 0 -2 0M413.9 402.4a1 1 0 1 0 2 0a1 1 0 1 0 -2 0M422.8 402.4a1 1 0 1 0 2 0a1 1 0 1 0 -2 0M431.8 402.4a1 1 0 1 0 2 0a1 1 0 1 0 -2 0M440.8 402.4a1 1 0 1 0 2 0a1 1 0 1 0 -2 0M449.8 402.4a1 1 0 1 0 2 0a1 1 0 1 0 -2 0M458.7 402.4a1 1 0 1 0 2 0a1 1 0 1 0 -2 0M467.7 402.4a1 1 0 1 0 2 0a1 1 0 1 0 -2 0M360.0 415.6a1 1 0 1 0 2 0a1 1 0 1 0 -2 0M369.0 415.6a1 1 0 1 0 2 0a1 1 0 1 0 -2 0M377.9 415.6a1 1 0 1 0 2 0a1 1 0 1 0 -2 0M386.9 415.6a1 1 0 1 0 2 0a1 1 0 1 0 -2 0M395.9 415.6a1 1 0 1 0 2 0a1 1 0 1 0 -2 0M404.9 415.6a1 1 0 1 0 2 0a1 1 0 1 0 -2 0M413.9 415.6a1 1 0 1 0 2 0a1 1 0 1 0 -2 0M422.8 415.6a1 1 0 1 0 2 0a1 1 0 1 0 -2 0M431.8 415.6a1 1 0 1 0 2 0a1 1 0 1 0 -2 0M440.8 415.6a1 1 0 1 0 2 0a1 1 0 1 0 -2 0M449.8 415.6a1 1 0 1 0 2 0a1 1 0 1 0 -2 0M458.7 415.6a1 1 0 1 0 2 0a1 1 0 1 0 -2 0M467.7 415.6a1 1 0 1 0 2 0a1 1 0 1 0 -2 0M360.0 428.7a1 1 0 1 0 2 0a1 1 0 1 0 -2 0M369.0 428.7a1 1 0 1 0 2 0a1 1 0 1 0 -2 0M377.9 428.7a1 1 0 1 0 2 0a1 1 0 1 0 -2 0M386.9 428.7a1 1 0 1 0 2 0a1 1 0 1 0 -2 0M395.9 428.7a1 1 0 1 0 2 0a1 1 0 1 0 -2 0M404.9 428.7a1 1 0 1 0 2 0a1 1 0 1 0 -2 0M413.9 428.7a1 1 0 1 0 2 0a1 1 0 1 0 -2 0M422.8 428.7a1 1 0 1 0 2 0a1 1 0 1 0 -2 0M431.8 428.7a1 1 0 1 0 2 0a1 1 0 1 0 -2 0M440.8 428.7a1 1 0 1 0 2 0a1 1 0 1 0 -2 0M449.8 428.7a1 1 0 1 0 2 0a1 1 0 1 0 -2 0M458.7 428.7a1 1 0 1 0 2 0a1 1 0 1 0 -2 0M467.7 428.7a1 1 0 1 0 2 0a1 1 0 1 0 -2 0M360.0 441.9a1 1 0 1 0 2 0a1 1 0 1 0 -2 0M369.0 441.9a1 1 0 1 0 2 0a1 1 0 1 0 -2 0M377.9 441.9a1 1 0 1 0 2 0a1 1 0 1 0 -2 0M386.9 441.9a1 1 0 1 0 2 0a1 1 0 1 0 -2 0M395.9 441.9a1 1 0 1 0 2 0a1 1 0 1 0 -2 0M404.9 441.9a1 1 0 1 0 2 0a1 1 0 1 0 -2 0M413.9 441.9a1 1 0 1 0 2 0a1 1 0 1 0 -2 0M422.8 441.9a1 1 0 1 0 2 0a1 1 0 1 0 -2 0M431.8 441.9a1 1 0 1 0 2 0a1 1 0 1 0 -2 0M440.8 441.9a1 1 0 1 0 2 0a1 1 0 1 0 -2 0M449.8 441.9a1 1 0 1 0 2 0a1 1 0 1 0 -2 0M458.7 441.9a1 1 0 1 0 2 0a1 1 0 1 0 -2 0M467.7 441.9a1 1 0 1 0 2 0a1 1 0 1 0 -2 0M360.0 455.1a1 1 0 1 0 2 0a1 1 0 1 0 -2 0M369.0 455.1a1 1 0 1 0 2 0a1 1 0 1 0 -2 0M377.9 455.1a1 1 0 1 0 2 0a1 1 0 1 0 -2 0M386.9 455.1a1 1 0 1 0 2 0a1 1 0 1 0 -2 0M395.9 455.1a1 1 0 1 0 2 0a1 1 0 1 0 -2 0M404.9 455.1a1 1 0 1 0 2 0a1 1 0 1 0 -2 0M413.9 455.1a1 1 0 1 0 2 0a1 1 0 1 0 -2 0M422.8 455.1a1 1 0 1 0 2 0a1 1 0 1 0 -2 0M431.8 455.1a1 1 0 1 0 2 0a1 1 0 1 0 -2 0M440.8 455.1a1 1 0 1 0 2 0a1 1 0 1 0 -2 0M449.8 455.1a1 1 0 1 0 2 0a1 1 0 1 0 -2 0M458.7 455.1a1 1 0 1 0 2 0a1 1 0 1 0 -2 0M467.7 455.1a1 1 0 1 0 2 0a1 1 0 1 0 -2 0M360.0 468.2a1 1 0 1 0 2 0a1 1 0 1 0 -2 0M369.0 468.2a1 1 0 1 0 2 0a1 1 0 1 0 -2 0M377.9 468.2a1 1 0 1 0 2 0a1 1 0 1 0 -2 0M386.9 468.2a1 1 0 1 0 2 0a1 1 0 1 0 -2 0M395.9 468.2a1 1 0 1 0 2 0a1 1 0 1 0 -2 0M404.9 468.2a1 1 0 1 0 2 0a1 1 0 1 0 -2 0M413.9 468.2a1 1 0 1 0 2 0a1 1 0 1 0 -2 0M422.8 468.2a1 1 0 1 0 2 0a1 1 0 1 0 -2 0M431.8 468.2a1 1 0 1 0 2 0a1 1 0 1 0 -2 0M440.8 468.2a1 1 0 1 0 2 0a1 1 0 1 0 -2 0M449.8 468.2a1 1 0 1 0 2 0a1 1 0 1 0 -2 0M458.7 468.2a1 1 0 1 0 2 0a1 1 0 1 0 -2 0M467.7 468.2a1 1 0 1 0 2 0a1 1 0 1 0 -2 0M360.0 481.4a1 1 0 1 0 2 0a1 1 0 1 0 -2 0M369.0 481.4a1 1 0 1 0 2 0a1 1 0 1 0 -2 0M377.9 481.4a1 1 0 1 0 2 0a1 1 0 1 0 -2 0M386.9 481.4a1 1 0 1 0 2 0a1 1 0 1 0 -2 0M395.9 481.4a1 1 0 1 0 2 0a1 1 0 1 0 -2 0M404.9 481.4a1 1 0 1 0 2 0a1 1 0 1 0 -2 0M413.9 481.4a1 1 0 1 0 2 0a1 1 0 1 0 -2 0M422.8 481.4a1 1 0 1 0 2 0a1 1 0 1 0 -2 0M431.8 481.4a1 1 0 1 0 2 0a1 1 0 1 0 -2 0M440.8 481.4a1 1 0 1 0 2 0a1 1 0 1 0 -2 0M449.8 481.4a1 1 0 1 0 2 0a1 1 0 1 0 -2 0M458.7 481.4a1 1 0 1 0 2 0a1 1 0 1 0 -2 0M467.7 481.4a1 1 0 1 0 2 0a1 1 0 1 0 -2 0M360.0 494.5a1 1 0 1 0 2 0a1 1 0 1 0 -2 0M369.0 494.5a1 1 0 1 0 2 0a1 1 0 1 0 -2 0M377.9 494.5a1 1 0 1 0 2 0a1 1 0 1 0 -2 0M386.9 494.5a1 1 0 1 0 2 0a1 1 0 1 0 -2 0M395.9 494.5a1 1 0 1 0 2 0a1 1 0 1 0 -2 0M404.9 494.5a1 1 0 1 0 2 0a1 1 0 1 0 -2 0M413.9 494.5a1 1 0 1 0 2 0a1 1 0 1 0 -2 0M422.8 494.5a1 1 0 1 0 2 0a1 1 0 1 0 -2 0M431.8 494.5a1 1 0 1 0 2 0a1 1 0 1 0 -2 0M440.8 494.5a1 1 0 1 0 2 0a1 1 0 1 0 -2 0M449.8 494.5a1 1 0 1 0 2 0a1 1 0 1 0 -2 0M458.7 494.5a1 1 0 1 0 2 0a1 1 0 1 0 -2 0M467.7 494.5a1 1 0 1 0 2 0a1 1 0 1 0 -2 0M360.0 507.7a1 1 0 1 0 2 0a1 1 0 1 0 -2 0M369.0 507.7a1 1 0 1 0 2 0a1 1 0 1 0 -2 0M377.9 507.7a1 1 0 1 0 2 0a1 1 0 1 0 -2 0M386.9 507.7a1 1 0 1 0 2 0a1 1 0 1 0 -2 0M395.9 507.7a1 1 0 1 0 2 0a1 1 0 1 0 -2 0M404.9 507.7a1 1 0 1 0 2 0a1 1 0 1 0 -2 0M413.9 507.7a1 1 0 1 0 2 0a1 1 0 1 0 -2 0M422.8 507.7a1 1 0 1 0 2 0a1 1 0 1 0 -2 0M431.8 507.7a1 1 0 1 0 2 0a1 1 0 1 0 -2 0M440.8 507.7a1 1 0 1 0 2 0a1 1 0 1 0 -2 0M449.8 507.7a1 1 0 1 0 2 0a1 1 0 1 0 -2 0M458.7 507.7a1 1 0 1 0 2 0a1 1 0 1 0 -2 0M467.7 507.7a1 1 0 1 0 2 0a1 1 0 1 0 -2 0" fill="#111"/>
<path d="M386.6 323.5h2.8M458.4 323.5h2.8M404.6 336.6h2.8M440.5 336.6h2.8M458.4 336.6h2.8M404.6 349.8h2.8M422.5 349.8h2.8M440.5 349.8h2.8M458.4 349.8h2.8M386.6 362.9h2.8M404.6 362.9h2.8M422.5 362.9h2.8M440.5 362.9h2.8M458.4 362.9h2.8M386.6 376.1h2.8M404.6 376.1h2.8M422.5 376.1h2.8M440.5 376.1h2.8M458.4 376.1h2.8" stroke="#e83ce8" stroke-width="1.4" fill="none"/>
</g>
<rect x="452.5" y="448.6" width="12.4" height="52.4" fill="none" stroke="#3a78c8" stroke-width="1.6"/>
<path d="M468.00 477.90L469.12 480.96L472.37 481.08L469.81 483.09L470.70 486.22L468.00 484.40L465.30 486.22L466.19 483.09L463.63 481.08L466.88 480.96Z" fill="#1515ff"/>
<line x1="48.8" y1="107.6" x2="192.70" y2="107.6" stroke="#7a7a7a" stroke-opacity="0.28" stroke-width="0.9"/>
<line x1="48.8" y1="107.6" x2="51.3" y2="107.6" stroke="#444" stroke-width="0.8"/>
<line x1="48.8" y1="173.4" x2="192.70" y2="173.4" stroke="#7a7a7a" stroke-opacity="0.28" stroke-width="0.9"/>
<line x1="48.8" y1="173.4" x2="51.3" y2="173.4" stroke="#444" stroke-width="0.8"/>
<line x1="48.8" y1="239.2" x2="192.70" y2="239.2" stroke="#7a7a7a" stroke-opacity="0.28" stroke-width="0.9"/>
<line x1="48.8" y1="239.2" x2="51.3" y2="239.2" stroke="#444" stroke-width="0.8"/>
<line x1="80.60" y1="41.5" x2="80.60" y2="252.5" stroke="#7a7a7a" stroke-opacity="0.28" stroke-width="0.9"/>
<line x1="80.60" y1="252.5" x2="80.60" y2="250.0" stroke="#444" stroke-width="0.8"/>
<text x="80.10" y="273.20" font-size="14.2" text-anchor="middle" >20°N</text>
<line x1="116.50" y1="41.5" x2="116.50" y2="252.5" stroke="#7a7a7a" stroke-opacity="0.28" stroke-width="0.9"/>
<line x1="116.50" y1="252.5" x2="116.50" y2="250.0" stroke="#444" stroke-width="0.8"/>
<text x="116.00" y="273.20" font-size="14.2" text-anchor="middle" >40°N</text>
<line x1="152.40" y1="41.5" x2="152.40" y2="252.5" stroke="#7a7a7a" stroke-opacity="0.28" stroke-width="0.9"/>
<line x1="152.40" y1="252.5" x2="152.40" y2="250.0" stroke="#444" stroke-width="0.8"/>
<text x="151.90" y="273.20" font-size="14.2" text-anchor="middle" >60°N</text>
<line x1="188.30" y1="41.5" x2="188.30" y2="252.5" stroke="#7a7a7a" stroke-opacity="0.28" stroke-width="0.9"/>
<line x1="188.30" y1="252.5" x2="188.30" y2="250.0" stroke="#444" stroke-width="0.8"/>
<text x="187.80" y="273.20" font-size="14.2" text-anchor="middle" >80°N</text>
<rect x="48.8" y="41.5" width="143.90" height="211.00" fill="none" stroke="#6a6a6a" stroke-width="1.2"/>
<line x1="200.2" y1="107.6" x2="344.10" y2="107.6" stroke="#7a7a7a" stroke-opacity="0.28" stroke-width="0.9"/>
<line x1="200.2" y1="107.6" x2="202.7" y2="107.6" stroke="#444" stroke-width="0.8"/>
<line x1="200.2" y1="173.4" x2="344.10" y2="173.4" stroke="#7a7a7a" stroke-opacity="0.28" stroke-width="0.9"/>
<line x1="200.2" y1="173.4" x2="202.7" y2="173.4" stroke="#444" stroke-width="0.8"/>
<line x1="200.2" y1="239.2" x2="344.10" y2="239.2" stroke="#7a7a7a" stroke-opacity="0.28" stroke-width="0.9"/>
<line x1="200.2" y1="239.2" x2="202.7" y2="239.2" stroke="#444" stroke-width="0.8"/>
<line x1="232.00" y1="41.5" x2="232.00" y2="252.5" stroke="#7a7a7a" stroke-opacity="0.28" stroke-width="0.9"/>
<line x1="232.00" y1="252.5" x2="232.00" y2="250.0" stroke="#444" stroke-width="0.8"/>
<text x="231.50" y="273.20" font-size="14.2" text-anchor="middle" >20°N</text>
<line x1="267.90" y1="41.5" x2="267.90" y2="252.5" stroke="#7a7a7a" stroke-opacity="0.28" stroke-width="0.9"/>
<line x1="267.90" y1="252.5" x2="267.90" y2="250.0" stroke="#444" stroke-width="0.8"/>
<text x="267.40" y="273.20" font-size="14.2" text-anchor="middle" >40°N</text>
<line x1="303.80" y1="41.5" x2="303.80" y2="252.5" stroke="#7a7a7a" stroke-opacity="0.28" stroke-width="0.9"/>
<line x1="303.80" y1="252.5" x2="303.80" y2="250.0" stroke="#444" stroke-width="0.8"/>
<text x="303.30" y="273.20" font-size="14.2" text-anchor="middle" >60°N</text>
<line x1="339.70" y1="41.5" x2="339.70" y2="252.5" stroke="#7a7a7a" stroke-opacity="0.28" stroke-width="0.9"/>
<line x1="339.70" y1="252.5" x2="339.70" y2="250.0" stroke="#444" stroke-width="0.8"/>
<text x="339.20" y="273.20" font-size="14.2" text-anchor="middle" >80°N</text>
<rect x="200.2" y="41.5" width="143.90" height="211.00" fill="none" stroke="#6a6a6a" stroke-width="1.2"/>
<line x1="351.2" y1="107.6" x2="495.10" y2="107.6" stroke="#7a7a7a" stroke-opacity="0.28" stroke-width="0.9"/>
<line x1="351.2" y1="107.6" x2="353.7" y2="107.6" stroke="#444" stroke-width="0.8"/>
<line x1="351.2" y1="173.4" x2="495.10" y2="173.4" stroke="#7a7a7a" stroke-opacity="0.28" stroke-width="0.9"/>
<line x1="351.2" y1="173.4" x2="353.7" y2="173.4" stroke="#444" stroke-width="0.8"/>
<line x1="351.2" y1="239.2" x2="495.10" y2="239.2" stroke="#7a7a7a" stroke-opacity="0.28" stroke-width="0.9"/>
<line x1="351.2" y1="239.2" x2="353.7" y2="239.2" stroke="#444" stroke-width="0.8"/>
<line x1="383.00" y1="41.5" x2="383.00" y2="252.5" stroke="#7a7a7a" stroke-opacity="0.28" stroke-width="0.9"/>
<line x1="383.00" y1="252.5" x2="383.00" y2="250.0" stroke="#444" stroke-width="0.8"/>
<text x="382.50" y="273.20" font-size="14.2" text-anchor="middle" >20°N</text>
<line x1="418.90" y1="41.5" x2="418.90" y2="252.5" stroke="#7a7a7a" stroke-opacity="0.28" stroke-width="0.9"/>
<line x1="418.90" y1="252.5" x2="418.90" y2="250.0" stroke="#444" stroke-width="0.8"/>
<text x="418.40" y="273.20" font-size="14.2" text-anchor="middle" >40°N</text>
<line x1="454.80" y1="41.5" x2="454.80" y2="252.5" stroke="#7a7a7a" stroke-opacity="0.28" stroke-width="0.9"/>
<line x1="454.80" y1="252.5" x2="454.80" y2="250.0" stroke="#444" stroke-width="0.8"/>
<text x="454.30" y="273.20" font-size="14.2" text-anchor="middle" >60°N</text>
<line x1="490.70" y1="41.5" x2="490.70" y2="252.5" stroke="#7a7a7a" stroke-opacity="0.28" stroke-width="0.9"/>
<line x1="490.70" y1="252.5" x2="490.70" y2="250.0" stroke="#444" stroke-width="0.8"/>
<text x="490.20" y="273.20" font-size="14.2" text-anchor="middle" >80°N</text>
<rect x="351.2" y="41.5" width="143.90" height="211.00" fill="none" stroke="#6a6a6a" stroke-width="1.2"/>
<text x="42.20" y="47.40" font-size="14" text-anchor="end" >1e-1</text>
<text x="42.20" y="113.50" font-size="14" text-anchor="end" >1e0</text>
<text x="42.20" y="179.30" font-size="14" text-anchor="end" >1e1</text>
<text x="42.20" y="245.10" font-size="14" text-anchor="end" >1e2</text>
<text x="0.00" y="0.00" font-size="14" text-anchor="middle" transform="translate(11.5 147.0) rotate(-90)">Press (hPa)</text>
<line x1="48.8" y1="376.4" x2="192.70" y2="376.4" stroke="#7a7a7a" stroke-opacity="0.28" stroke-width="0.9"/>
<line x1="48.8" y1="376.4" x2="51.3" y2="376.4" stroke="#444" stroke-width="0.8"/>
<line x1="48.8" y1="442.20000000000005" x2="192.70" y2="442.20000000000005" stroke="#7a7a7a" stroke-opacity="0.28" stroke-width="0.9"/>
<line x1="48.8" y1="442.20000000000005" x2="51.3" y2="442.20000000000005" stroke="#444" stroke-width="0.8"/>
<line x1="48.8" y1="508.0" x2="192.70" y2="508.0" stroke="#7a7a7a" stroke-opacity="0.28" stroke-width="0.9"/>
<line x1="48.8" y1="508.0" x2="51.3" y2="508.0" stroke="#444" stroke-width="0.8"/>
<line x1="53.70" y1="310.3" x2="53.70" y2="521.3" stroke="#7a7a7a" stroke-opacity="0.28" stroke-width="0.9"/>
<line x1="53.70" y1="521.3" x2="53.70" y2="518.8" stroke="#444" stroke-width="0.8"/>
<text x="53.20" y="542.00" font-size="14.2" text-anchor="middle" >80°S</text>
<line x1="89.60" y1="310.3" x2="89.60" y2="521.3" stroke="#7a7a7a" stroke-opacity="0.28" stroke-width="0.9"/>
<line x1="89.60" y1="521.3" x2="89.60" y2="518.8" stroke="#444" stroke-width="0.8"/>
<text x="89.10" y="542.00" font-size="14.2" text-anchor="middle" >60°S</text>
<line x1="125.50" y1="310.3" x2="125.50" y2="521.3" stroke="#7a7a7a" stroke-opacity="0.28" stroke-width="0.9"/>
<line x1="125.50" y1="521.3" x2="125.50" y2="518.8" stroke="#444" stroke-width="0.8"/>
<text x="125.00" y="542.00" font-size="14.2" text-anchor="middle" >40°S</text>
<line x1="161.40" y1="310.3" x2="161.40" y2="521.3" stroke="#7a7a7a" stroke-opacity="0.28" stroke-width="0.9"/>
<line x1="161.40" y1="521.3" x2="161.40" y2="518.8" stroke="#444" stroke-width="0.8"/>
<text x="160.90" y="542.00" font-size="14.2" text-anchor="middle" >20°S</text>
<rect x="48.8" y="310.3" width="143.90" height="211.00" fill="none" stroke="#6a6a6a" stroke-width="1.2"/>
<line x1="200.2" y1="376.4" x2="344.10" y2="376.4" stroke="#7a7a7a" stroke-opacity="0.28" stroke-width="0.9"/>
<line x1="200.2" y1="376.4" x2="202.7" y2="376.4" stroke="#444" stroke-width="0.8"/>
<line x1="200.2" y1="442.20000000000005" x2="344.10" y2="442.20000000000005" stroke="#7a7a7a" stroke-opacity="0.28" stroke-width="0.9"/>
<line x1="200.2" y1="442.20000000000005" x2="202.7" y2="442.20000000000005" stroke="#444" stroke-width="0.8"/>
<line x1="200.2" y1="508.0" x2="344.10" y2="508.0" stroke="#7a7a7a" stroke-opacity="0.28" stroke-width="0.9"/>
<line x1="200.2" y1="508.0" x2="202.7" y2="508.0" stroke="#444" stroke-width="0.8"/>
<line x1="205.10" y1="310.3" x2="205.10" y2="521.3" stroke="#7a7a7a" stroke-opacity="0.28" stroke-width="0.9"/>
<line x1="205.10" y1="521.3" x2="205.10" y2="518.8" stroke="#444" stroke-width="0.8"/>
<text x="204.60" y="542.00" font-size="14.2" text-anchor="middle" >80°S</text>
<line x1="241.00" y1="310.3" x2="241.00" y2="521.3" stroke="#7a7a7a" stroke-opacity="0.28" stroke-width="0.9"/>
<line x1="241.00" y1="521.3" x2="241.00" y2="518.8" stroke="#444" stroke-width="0.8"/>
<text x="240.50" y="542.00" font-size="14.2" text-anchor="middle" >60°S</text>
<line x1="276.90" y1="310.3" x2="276.90" y2="521.3" stroke="#7a7a7a" stroke-opacity="0.28" stroke-width="0.9"/>
<line x1="276.90" y1="521.3" x2="276.90" y2="518.8" stroke="#444" stroke-width="0.8"/>
<text x="276.40" y="542.00" font-size="14.2" text-anchor="middle" >40°S</text>
<line x1="312.80" y1="310.3" x2="312.80" y2="521.3" stroke="#7a7a7a" stroke-opacity="0.28" stroke-width="0.9"/>
<line x1="312.80" y1="521.3" x2="312.80" y2="518.8" stroke="#444" stroke-width="0.8"/>
<text x="312.30" y="542.00" font-size="14.2" text-anchor="middle" >20°S</text>
<rect x="200.2" y="310.3" width="143.90" height="211.00" fill="none" stroke="#6a6a6a" stroke-width="1.2"/>
<line x1="351.2" y1="376.4" x2="495.10" y2="376.4" stroke="#7a7a7a" stroke-opacity="0.28" stroke-width="0.9"/>
<line x1="351.2" y1="376.4" x2="353.7" y2="376.4" stroke="#444" stroke-width="0.8"/>
<line x1="351.2" y1="442.20000000000005" x2="495.10" y2="442.20000000000005" stroke="#7a7a7a" stroke-opacity="0.28" stroke-width="0.9"/>
<line x1="351.2" y1="442.20000000000005" x2="353.7" y2="442.20000000000005" stroke="#444" stroke-width="0.8"/>
<line x1="351.2" y1="508.0" x2="495.10" y2="508.0" stroke="#7a7a7a" stroke-opacity="0.28" stroke-width="0.9"/>
<line x1="351.2" y1="508.0" x2="353.7" y2="508.0" stroke="#444" stroke-width="0.8"/>
<line x1="356.10" y1="310.3" x2="356.10" y2="521.3" stroke="#7a7a7a" stroke-opacity="0.28" stroke-width="0.9"/>
<line x1="356.10" y1="521.3" x2="356.10" y2="518.8" stroke="#444" stroke-width="0.8"/>
<text x="355.60" y="542.00" font-size="14.2" text-anchor="middle" >80°S</text>
<line x1="392.00" y1="310.3" x2="392.00" y2="521.3" stroke="#7a7a7a" stroke-opacity="0.28" stroke-width="0.9"/>
<line x1="392.00" y1="521.3" x2="392.00" y2="518.8" stroke="#444" stroke-width="0.8"/>
<text x="391.50" y="542.00" font-size="14.2" text-anchor="middle" >60°S</text>
<line x1="427.90" y1="310.3" x2="427.90" y2="521.3" stroke="#7a7a7a" stroke-opacity="0.28" stroke-width="0.9"/>
<line x1="427.90" y1="521.3" x2="427.90" y2="518.8" stroke="#444" stroke-width="0.8"/>
<text x="427.40" y="542.00" font-size="14.2" text-anchor="middle" >40°S</text>
<line x1="463.80" y1="310.3" x2="463.80" y2="521.3" stroke="#7a7a7a" stroke-opacity="0.28" stroke-width="0.9"/>
<line x1="463.80" y1="521.3" x2="463.80" y2="518.8" stroke="#444" stroke-width="0.8"/>
<text x="463.30" y="542.00" font-size="14.2" text-anchor="middle" >20°S</text>
<rect x="351.2" y="310.3" width="143.90" height="211.00" fill="none" stroke="#6a6a6a" stroke-width="1.2"/>
<text x="42.20" y="316.20" font-size="14" text-anchor="end" >1e-1</text>
<text x="42.20" y="382.30" font-size="14" text-anchor="end" >1e0</text>
<text x="42.20" y="448.10" font-size="14" text-anchor="end" >1e1</text>
<text x="42.20" y="513.90" font-size="14" text-anchor="end" >1e2</text>
<text x="0.00" y="0.00" font-size="14" text-anchor="middle" transform="translate(11.5 415.8) rotate(-90)">Press (hPa)</text>
<text x="117.90" y="292.20" font-size="14.2" text-anchor="middle" >Dec 28–Jan 20</text>
<text x="267.70" y="292.20" font-size="14.2" text-anchor="middle" >Jan 21–Feb 13</text>
<text x="418.30" y="292.20" font-size="14.2" text-anchor="middle" >Feb 14–Mar 8</text>
<text x="117.10" y="561.00" font-size="14.2" text-anchor="middle" >July 7–July 30</text>
<text x="272.30" y="561.00" font-size="14.2" text-anchor="middle" >July 31–Aug 23</text>
<text x="422.50" y="561.00" font-size="14.2" text-anchor="middle" >Aug 24–Sep 16</text>
<line x1="502.2" y1="107.6" x2="646.5" y2="107.6" stroke="#7a7a7a" stroke-opacity="0.28" stroke-width="0.9"/>
<line x1="502.2" y1="173.4" x2="646.5" y2="173.4" stroke="#7a7a7a" stroke-opacity="0.28" stroke-width="0.9"/>
<line x1="502.2" y1="239.2" x2="646.5" y2="239.2" stroke="#7a7a7a" stroke-opacity="0.28" stroke-width="0.9"/>
<line x1="543.28" y1="41.5" x2="543.28" y2="252.5" stroke="#7a7a7a" stroke-opacity="0.28" stroke-width="0.9"/>
<line x1="543.28" y1="252.5" x2="543.28" y2="250.0" stroke="#444" stroke-width="0.8"/>
<text x="543.28" y="271.80" font-size="14" text-anchor="middle" >-2</text>
<line x1="584.40" y1="41.5" x2="584.40" y2="252.5" stroke="#7a7a7a" stroke-opacity="0.28" stroke-width="0.9"/>
<line x1="584.40" y1="252.5" x2="584.40" y2="250.0" stroke="#444" stroke-width="0.8"/>
<text x="584.40" y="271.80" font-size="14" text-anchor="middle" >0</text>
<line x1="625.52" y1="41.5" x2="625.52" y2="252.5" stroke="#7a7a7a" stroke-opacity="0.28" stroke-width="0.9"/>
<line x1="625.52" y1="252.5" x2="625.52" y2="250.0" stroke="#444" stroke-width="0.8"/>
<text x="625.52" y="271.80" font-size="14" text-anchor="middle" >2</text>
<text x="502.20" y="33.80" font-size="14" text-anchor="middle" >-20</text>
<line x1="502.20" y1="41.5" x2="502.20" y2="44.0" stroke="#444" stroke-width="0.8"/>
<text x="538.20" y="33.80" font-size="14" text-anchor="middle" >0</text>
<line x1="538.20" y1="41.5" x2="538.20" y2="44.0" stroke="#444" stroke-width="0.8"/>
<text x="574.20" y="33.80" font-size="14" text-anchor="middle" >20</text>
<line x1="574.20" y1="41.5" x2="574.20" y2="44.0" stroke="#444" stroke-width="0.8"/>
<text x="610.20" y="33.80" font-size="14" text-anchor="middle" >40</text>
<line x1="610.20" y1="41.5" x2="610.20" y2="44.0" stroke="#444" stroke-width="0.8"/>
<text x="646.20" y="33.80" font-size="14" text-anchor="middle" >60</text>
<line x1="646.20" y1="41.5" x2="646.20" y2="44.0" stroke="#444" stroke-width="0.8"/>
<text x="652.30" y="47.80" font-size="14" text-anchor="start" >64km</text>
<line x1="643.5" y1="40.8" x2="646.5" y2="40.8" stroke="#444" stroke-width="0.8"/>
<text x="652.30" y="110.70" font-size="14" text-anchor="start" >47km</text>
<line x1="643.5" y1="103.7" x2="646.5" y2="103.7" stroke="#444" stroke-width="0.8"/>
<text x="652.30" y="172.80" font-size="14" text-anchor="start" >31km</text>
<line x1="643.5" y1="165.8" x2="646.5" y2="165.8" stroke="#444" stroke-width="0.8"/>
<text x="652.30" y="234.40" font-size="14" text-anchor="start" >16km</text>
<line x1="643.5" y1="227.4" x2="646.5" y2="227.4" stroke="#444" stroke-width="0.8"/>
<clipPath id="clipp_d"><rect x="502.2" y="41.5" width="144.30" height="211.00"/></clipPath>
<g clip-path="url(#clipp_d)" fill="none" stroke-linejoin="round">
<polygon points="505.8,41.5 510.7,53.5 515.5,67.1 519.4,84.6 525.2,100.1 531.1,111.8 538.8,123.4 548.5,135.1 554.8,140.0 556.3,146.7 565.0,156.0 573.0,170.0 578.0,188.0 581.0,207.0 581.0,224.0 568.0,236.0 555.0,244.0 546.7,252.6 558.0,252.6 566.0,243.0 578.0,235.0 585.5,225.0 585.0,207.0 584.0,188.0 582.0,170.0 576.0,156.0 571.8,146.7 566.0,137.0 558.3,125.4 550.5,113.7 544.7,102.1 540.8,90.4 539.8,76.8 542.7,57.4 544.7,41.5" fill="#ddd2d4" stroke="none"/>
<polyline points="505.8,41.5 510.7,53.5 515.5,67.1 519.4,84.6 525.2,100.1 531.1,111.8 538.8,123.4 548.5,135.1 554.8,140.0 556.3,146.7 565.0,156.0 573.0,170.0 578.0,188.0 581.0,207.0 581.0,224.0 568.0,236.0 555.0,244.0 546.7,252.6" stroke="#ff6a6a" stroke-width="1" stroke-dasharray="1.2,1.2"/>
<polyline points="544.7,41.5 542.7,57.4 539.8,76.8 540.8,90.4 544.7,102.1 550.5,113.7 558.3,125.4 566.0,137.0 571.8,146.7 576.0,156.0 582.0,170.0 584.0,188.0 585.0,207.0 585.5,225.0 578.0,235.0 566.0,243.0 558.0,252.6" stroke="#ff6a6a" stroke-width="1" stroke-dasharray="1.2,1.2"/>
<line x1="537.9" y1="41.5" x2="537.9" y2="252.5" stroke="#ff4a4a" stroke-width="1.6" stroke-dasharray="6,3.5"/>
<polyline points="543.7,41.5 531.1,57.4 522.3,67.1 521.4,76.8 527.2,90.4 535.0,102.1 546.6,111.8 558.3,121.5 568.0,131.2 570.9,146.7 575.0,160.0 580.0,175.0 583.0,195.0 585.0,215.0 585.2,225.2 578.0,238.0 570.0,252.6" stroke="#3f7fcf" stroke-width="1"/>
<polyline points="517.5,41.5 521.4,49.7 512.6,67.1 508.7,81.7 515.5,94.3 525.2,104.0 536.9,113.7 548.5,123.4 560.2,135.1 568.0,146.7 574.0,156.0 579.0,170.0 582.0,188.0 584.0,207.0 584.5,226.0 570.0,237.0 546.7,252.6" stroke="#111" stroke-width="1"/>
<polyline points="524.3,41.5 526.2,57.4 527.2,76.8 529.1,92.4 534.0,106.0 540.8,117.6 550.5,127.3 558.3,137.0 564.1,146.7 571.0,156.2 578.1,170.4 581.1,188.7 583.2,206.9 583.2,225.2 573.0,235.3 560.9,243.4 552.7,252.6" stroke="#ff2a1a" stroke-width="1.7"/>
<polyline points="630.3,41.5 621.8,53.8 606.0,66.9 586.3,76.1 567.9,86.6 560.0,93.2 544.7,102.1 533.0,108.9 520.4,115.7 511.7,128.3 515.5,139.0 516.2,140.0 525.4,156.2 532.5,170.4 538.5,188.7 543.6,202.9 543.0,215.0 548.7,227.2 564.9,240.4 565.9,252.6" stroke="#3f7fcf" stroke-width="2.1"/>
<polyline points="619.1,41.5 612.6,53.8 598.1,66.3 579.7,78.7 567.9,87.9 560.0,97.1 556.3,102.1 538.8,117.6 525.2,129.3 515.5,139.0 515.2,153.2 521.3,164.3 526.4,178.5 529.4,190.7 537.5,204.9 541.6,215.0 552.7,225.2 566.9,235.3 575.0,240.4 573.0,247.5 572.0,252.6" stroke="#000" stroke-width="2.1"/>
</g>
<rect x="585.6" y="101.6" width="57.0" height="85.7" fill="#fff"/>
<g fill="none" stroke-linejoin="round">
<polygon points="629.9,102.7 633.0,120.0 637.3,138.7 636.3,157.8 610.8,174.7 589.7,187.0 608.7,187.0 623.6,176.9 641.6,160.0 642.6,138.7 639.5,120.0 636.3,102.7" fill="#ddd2d4" stroke="none"/>
<polyline points="629.9,102.7 633.0,120.0 637.3,138.7 636.3,157.8 610.8,174.7 589.7,187.0" stroke="#ff6a6a" stroke-width="1" stroke-dasharray="1.2,1.2"/>
<polyline points="636.3,102.7 639.5,120.0 642.6,138.7 641.6,160.0 623.6,176.9 608.7,187.0" stroke="#ff6a6a" stroke-width="1" stroke-dasharray="1.2,1.2"/>
<polyline points="635.2,102.7 638.0,120.0 641.6,138.7 641.6,160.0 620.4,187.0" stroke="#3f7fcf" stroke-width="1.1"/>
<polyline points="633.1,102.7 636.5,120.0 640.5,140.8 638.4,160.0 619.3,174.7 600.3,187.0" stroke="#ff2a1a" stroke-width="1.6"/>
<polyline points="632.0,102.7 635.2,117.5 639.4,138.7 639.4,157.8 617.2,172.6 586.5,187.0" stroke="#111" stroke-width="1.2"/>
<polyline points="585.6,101.6 585.6,187.3 642.6,187.3" stroke="#333" stroke-width="1"/>
</g>
<text x="579.00" y="107.00" font-size="14" text-anchor="end" >1e1</text>
<text x="580.00" y="193.50" font-size="14" text-anchor="end" >1e2</text>
<text x="585.60" y="206.50" font-size="14" text-anchor="middle" >-2</text>
<text x="613.50" y="206.50" font-size="14" text-anchor="middle" >-1</text>
<text x="641.60" y="206.50" font-size="14" text-anchor="middle" >0</text>
<rect x="502.2" y="41.5" width="144.30" height="211.00" fill="none" stroke="#6a6a6a" stroke-width="1.2"/>
<line x1="502.2" y1="376.4" x2="646.5" y2="376.4" stroke="#7a7a7a" stroke-opacity="0.28" stroke-width="0.9"/>
<line x1="502.2" y1="442.20000000000005" x2="646.5" y2="442.20000000000005" stroke="#7a7a7a" stroke-opacity="0.28" stroke-width="0.9"/>
<line x1="502.2" y1="508.0" x2="646.5" y2="508.0" stroke="#7a7a7a" stroke-opacity="0.28" stroke-width="0.9"/>
<line x1="543.28" y1="310.3" x2="543.28" y2="521.3" stroke="#7a7a7a" stroke-opacity="0.28" stroke-width="0.9"/>
<line x1="543.28" y1="521.3" x2="543.28" y2="518.8" stroke="#444" stroke-width="0.8"/>
<text x="543.28" y="540.60" font-size="14" text-anchor="middle" >-2</text>
<line x1="584.40" y1="310.3" x2="584.40" y2="521.3" stroke="#7a7a7a" stroke-opacity="0.28" stroke-width="0.9"/>
<line x1="584.40" y1="521.3" x2="584.40" y2="518.8" stroke="#444" stroke-width="0.8"/>
<text x="584.40" y="540.60" font-size="14" text-anchor="middle" >0</text>
<line x1="625.52" y1="310.3" x2="625.52" y2="521.3" stroke="#7a7a7a" stroke-opacity="0.28" stroke-width="0.9"/>
<line x1="625.52" y1="521.3" x2="625.52" y2="518.8" stroke="#444" stroke-width="0.8"/>
<text x="625.52" y="540.60" font-size="14" text-anchor="middle" >2</text>
<text x="502.20" y="302.30" font-size="14" text-anchor="middle" >-20</text>
<line x1="502.20" y1="310.3" x2="502.20" y2="312.8" stroke="#444" stroke-width="0.8"/>
<text x="538.20" y="302.30" font-size="14" text-anchor="middle" >0</text>
<line x1="538.20" y1="310.3" x2="538.20" y2="312.8" stroke="#444" stroke-width="0.8"/>
<text x="574.20" y="302.30" font-size="14" text-anchor="middle" >20</text>
<line x1="574.20" y1="310.3" x2="574.20" y2="312.8" stroke="#444" stroke-width="0.8"/>
<text x="610.20" y="302.30" font-size="14" text-anchor="middle" >40</text>
<line x1="610.20" y1="310.3" x2="610.20" y2="312.8" stroke="#444" stroke-width="0.8"/>
<text x="646.20" y="302.30" font-size="14" text-anchor="middle" >60</text>
<line x1="646.20" y1="310.3" x2="646.20" y2="312.8" stroke="#444" stroke-width="0.8"/>
<text x="652.30" y="315.40" font-size="14" text-anchor="start" >64km</text>
<line x1="643.5" y1="308.8" x2="646.5" y2="308.8" stroke="#444" stroke-width="0.8"/>
<text x="652.30" y="378.30" font-size="14" text-anchor="start" >47km</text>
<line x1="643.5" y1="371.7" x2="646.5" y2="371.7" stroke="#444" stroke-width="0.8"/>
<text x="652.30" y="440.40" font-size="14" text-anchor="start" >31km</text>
<line x1="643.5" y1="433.8" x2="646.5" y2="433.8" stroke="#444" stroke-width="0.8"/>
<text x="652.30" y="502.00" font-size="14" text-anchor="start" >16km</text>
<line x1="643.5" y1="495.4" x2="646.5" y2="495.4" stroke="#444" stroke-width="0.8"/>
<clipPath id="clipp_h"><rect x="502.2" y="310.3" width="144.30" height="211.00"/></clipPath>
<g clip-path="url(#clipp_h)" fill="none" stroke-linejoin="round">
<polygon points="539.6,310.1 537.5,323.3 532.5,335.4 537.5,355.7 542.6,376.0 550.7,392.2 560.9,406.4 566.9,418.6 572.0,425.0 577.0,440.0 579.5,460.0 581.0,481.0 582.0,501.0 583.8,522.6 586.5,522.6 584.5,501.0 583.8,481.0 583.0,460.0 581.5,440.0 578.0,425.0 574.0,418.6 573.0,396.3 570.0,380.0 564.9,365.9 559.8,351.7 558.8,335.4 562.9,323.3 565.9,310.1" fill="#ddd2d4" stroke="none"/>
<polyline points="539.6,310.1 537.5,323.3 532.5,335.4 537.5,355.7 542.6,376.0 550.7,392.2 560.9,406.4 566.9,418.6 572.0,425.0 577.0,440.0 579.5,460.0 581.0,481.0 582.0,501.0 583.8,522.6" stroke="#ff6a6a" stroke-width="1" stroke-dasharray="1.2,1.2"/>
<polyline points="565.9,310.1 562.9,323.3 558.8,335.4 559.8,351.7 564.9,365.9 570.0,380.0 573.0,396.3 574.0,418.6 578.0,425.0 581.5,440.0 583.0,460.0 583.8,481.0 584.5,501.0 586.5,522.6" stroke="#ff6a6a" stroke-width="1" stroke-dasharray="1.2,1.2"/>
<line x1="537.9" y1="310.3" x2="537.9" y2="521.3" stroke="#ff4a4a" stroke-width="1.6" stroke-dasharray="6,3.5"/>
<polyline points="543.6,310.1 545.6,323.3 536.5,333.4 529.4,349.6 532.5,363.8 540.6,378.0 552.7,390.2 564.9,400.3 570.0,414.5 573.0,425.0 577.5,440.0 580.5,460.0 582.0,481.0 584.0,501.0 587.2,522.6" stroke="#111" stroke-width="1"/>
<polyline points="551.7,310.1 549.7,323.3 545.6,335.4 546.7,353.7 551.7,371.9 557.8,388.2 564.9,402.4 570.0,418.6 575.0,422.2 579.1,440.4 581.1,460.7 582.2,481.0 583.2,501.3 585.2,522.6" stroke="#ff2a1a" stroke-width="1.7"/>
<polyline points="596.3,310.1 594.3,323.3 589.2,337.5 577.1,353.7 566.9,369.9 558.8,386.1 548.7,397.3 534.5,408.4 533.5,410.0 520.3,422.2 517.2,434.3 520.3,446.5 526.4,458.7 537.5,472.9 546.7,485.0 554.8,497.2 569.0,509.4 569.0,522.6" stroke="#000" stroke-width="2.1"/>
</g>
<rect x="585.8" y="367.1" width="56.8" height="85.9" fill="#fff"/>
<g fill="none" stroke-linejoin="round">
<polygon points="588.6,367.1 600.0,383.0 612.0,410.0 621.7,440.9 620.6,453.0 636.0,453.0 634.9,438.7 628.3,410.1 617.3,383.6 606.3,367.1" fill="#ddd2d4" stroke="none"/>
<polyline points="588.6,367.1 600.0,383.0 612.0,410.0 621.7,440.9 620.6,453.0" stroke="#ff6a6a" stroke-width="1" stroke-dasharray="1.2,1.2"/>
<polyline points="606.3,367.1 617.3,383.6 628.3,410.1 634.9,438.7 636.0,453.0" stroke="#ff6a6a" stroke-width="1" stroke-dasharray="1.2,1.2"/>
<polyline points="596.3,367.1 608.5,381.4 619.5,407.9 630.5,438.7 628.3,453.0" stroke="#ff2a1a" stroke-width="1.6"/>
<polyline points="585.8,367.1 608.5,394.6 622.8,410.1 633.8,438.7 642.6,453.0" stroke="#111" stroke-width="1.2"/>
<polyline points="585.8,367.1 585.8,453 642.6,453" stroke="#333" stroke-width="1"/>
</g>
<text x="579.00" y="372.50" font-size="14" text-anchor="end" >1e1</text>
<text x="579.50" y="459.00" font-size="14" text-anchor="end" >1e2</text>
<text x="585.60" y="472.50" font-size="14" text-anchor="middle" >-0.4</text>
<text x="627.30" y="472.50" font-size="14" text-anchor="middle" >0</text>
<rect x="502.2" y="310.3" width="144.30" height="211.00" fill="none" stroke="#6a6a6a" stroke-width="1.2"/>
<text x="50.60" y="52.40" font-size="14" text-anchor="start" >(a)</text>
<text x="202.60" y="53.10" font-size="14" text-anchor="start" >(b)</text>
<text x="355.20" y="53.70" font-size="14" text-anchor="start" >(c)</text>
<text x="505.00" y="55.50" font-size="14" text-anchor="start" >(d)</text>
<text x="53.60" y="322.30" font-size="14" text-anchor="start" >(e)</text>
<text x="206.40" y="322.70" font-size="14" text-anchor="start" >(f)</text>
<text x="353.60" y="321.80" font-size="14" text-anchor="start" >(g)</text>
<text x="504.60" y="324.30" font-size="14" text-anchor="start" >(h)</text>
<text x="547.6" y="15.2" font-size="13.6">U (m s<tspan dx="1.5" dy="-6" font-size="10" letter-spacing="1.8">-1</tspan><tspan dy="6">)</tspan></text>
<text x="508" y="563.3" font-size="14.1">Tendency (m s<tspan dx="1" dy="-6" font-size="10" letter-spacing="1.1">-1</tspan><tspan dy="6"> day</tspan><tspan dy="-6" font-size="10" letter-spacing="1.1">-1</tspan><tspan dy="6">)</tspan></text>
</svg></body></html>
